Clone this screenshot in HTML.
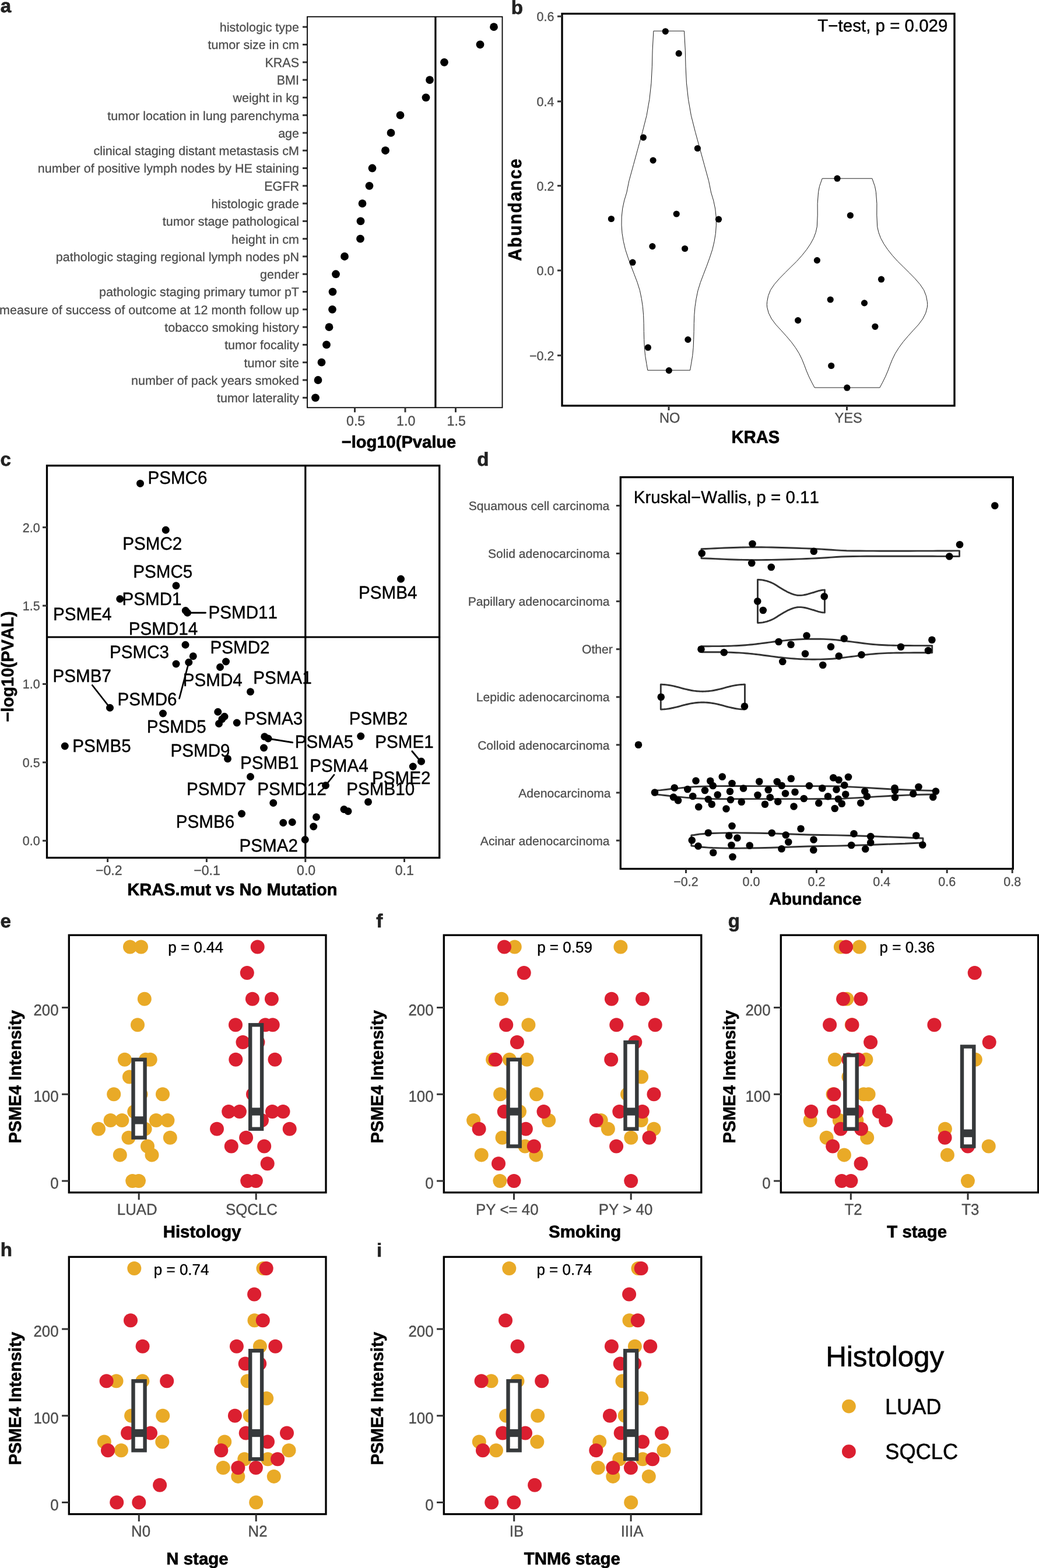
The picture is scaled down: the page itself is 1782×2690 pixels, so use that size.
<!DOCTYPE html>
<html lang="en">
<head>
<meta charset="utf-8">
<title>Figure</title>
<style>
html,body{margin:0;padding:0;background:#fff;overflow:hidden;}
body{width:1782px;height:2690px;overflow:hidden;}
svg{display:block;font-family:'Liberation Sans', sans-serif;font-kerning:none;text-rendering:geometricPrecision;}
</style>
</head>
<body>
<svg width="1782" height="2690" viewBox="0 0 1782 2690">
<rect x="0" y="0" width="1782" height="2690" fill="#ffffff"/>
<text transform="translate(0.83 20.7) scale(1 0.985)" font-size="33" font-weight="bold" fill="#222" stroke="#222" stroke-width="0.73">a</text>
<text transform="translate(513 54.1) scale(1 0.985)" font-size="21.5" text-anchor="end" fill="#4d4d4d" stroke="#4d4d4d" stroke-width="0.3">histologic type</text>
<line x1="519" y1="46.2" x2="527" y2="46.2" stroke="#333333" stroke-width="3" stroke-linecap="butt"/>
<circle cx="847" cy="46.2" r="6.9" fill="#000"/>
<text transform="translate(513 84.39) scale(1 0.985)" font-size="21.5" text-anchor="end" fill="#4d4d4d" stroke="#4d4d4d" stroke-width="0.3">tumor size in cm</text>
<line x1="519" y1="76.49" x2="527" y2="76.49" stroke="#333333" stroke-width="3" stroke-linecap="butt"/>
<circle cx="823.5" cy="76.49" r="6.9" fill="#000"/>
<text transform="translate(513 114.68) scale(1 1.040)" font-size="21.5" text-anchor="end" fill="#4d4d4d" stroke="#4d4d4d" stroke-width="0.3">KRAS</text>
<line x1="519" y1="106.78" x2="527" y2="106.78" stroke="#333333" stroke-width="3" stroke-linecap="butt"/>
<circle cx="762" cy="106.78" r="6.9" fill="#000"/>
<text transform="translate(513 144.97) scale(1 1.040)" font-size="21.5" text-anchor="end" fill="#4d4d4d" stroke="#4d4d4d" stroke-width="0.3">BMI</text>
<line x1="519" y1="137.07" x2="527" y2="137.07" stroke="#333333" stroke-width="3" stroke-linecap="butt"/>
<circle cx="737" cy="137.07" r="6.9" fill="#000"/>
<text transform="translate(513 175.26) scale(1 0.985)" font-size="21.5" text-anchor="end" fill="#4d4d4d" stroke="#4d4d4d" stroke-width="0.3">weight in kg</text>
<line x1="519" y1="167.36" x2="527" y2="167.36" stroke="#333333" stroke-width="3" stroke-linecap="butt"/>
<circle cx="730.5" cy="167.36" r="6.9" fill="#000"/>
<text transform="translate(513 205.55) scale(1 0.985)" font-size="21.5" text-anchor="end" fill="#4d4d4d" stroke="#4d4d4d" stroke-width="0.3">tumor location in lung parenchyma</text>
<line x1="519" y1="197.65" x2="527" y2="197.65" stroke="#333333" stroke-width="3" stroke-linecap="butt"/>
<circle cx="686.5" cy="197.65" r="6.9" fill="#000"/>
<text transform="translate(513 235.84) scale(1 0.985)" font-size="21.5" text-anchor="end" fill="#4d4d4d" stroke="#4d4d4d" stroke-width="0.3">age</text>
<line x1="519" y1="227.94" x2="527" y2="227.94" stroke="#333333" stroke-width="3" stroke-linecap="butt"/>
<circle cx="670.5" cy="227.94" r="6.9" fill="#000"/>
<text transform="translate(513 266.13) scale(1 0.987)" font-size="21.5" text-anchor="end" fill="#4d4d4d" stroke="#4d4d4d" stroke-width="0.3">clinical staging distant metastasis cM</text>
<line x1="519" y1="258.23" x2="527" y2="258.23" stroke="#333333" stroke-width="3" stroke-linecap="butt"/>
<circle cx="661" cy="258.23" r="6.9" fill="#000"/>
<text transform="translate(513 296.42) scale(1 0.988)" font-size="21.5" text-anchor="end" fill="#4d4d4d" stroke="#4d4d4d" stroke-width="0.3">number of positive lymph nodes by HE staining</text>
<line x1="519" y1="288.52" x2="527" y2="288.52" stroke="#333333" stroke-width="3" stroke-linecap="butt"/>
<circle cx="638.5" cy="288.52" r="6.9" fill="#000"/>
<text transform="translate(513 326.71) scale(1 1.040)" font-size="21.5" text-anchor="end" fill="#4d4d4d" stroke="#4d4d4d" stroke-width="0.3">EGFR</text>
<line x1="519" y1="318.81" x2="527" y2="318.81" stroke="#333333" stroke-width="3" stroke-linecap="butt"/>
<circle cx="633.5" cy="318.81" r="6.9" fill="#000"/>
<text transform="translate(513 357) scale(1 0.985)" font-size="21.5" text-anchor="end" fill="#4d4d4d" stroke="#4d4d4d" stroke-width="0.3">histologic grade</text>
<line x1="519" y1="349.1" x2="527" y2="349.1" stroke="#333333" stroke-width="3" stroke-linecap="butt"/>
<circle cx="621.5" cy="349.1" r="6.9" fill="#000"/>
<text transform="translate(513 387.3) scale(1 0.985)" font-size="21.5" text-anchor="end" fill="#4d4d4d" stroke="#4d4d4d" stroke-width="0.3">tumor stage pathological</text>
<line x1="519" y1="379.4" x2="527" y2="379.4" stroke="#333333" stroke-width="3" stroke-linecap="butt"/>
<circle cx="618.5" cy="379.4" r="6.9" fill="#000"/>
<text transform="translate(513 417.59) scale(1 0.985)" font-size="21.5" text-anchor="end" fill="#4d4d4d" stroke="#4d4d4d" stroke-width="0.3">height in cm</text>
<line x1="519" y1="409.69" x2="527" y2="409.69" stroke="#333333" stroke-width="3" stroke-linecap="butt"/>
<circle cx="618" cy="409.69" r="6.9" fill="#000"/>
<text transform="translate(513 447.88) scale(1 0.986)" font-size="21.5" text-anchor="end" fill="#4d4d4d" stroke="#4d4d4d" stroke-width="0.3">pathologic staging regional lymph nodes pN</text>
<line x1="519" y1="439.98" x2="527" y2="439.98" stroke="#333333" stroke-width="3" stroke-linecap="butt"/>
<circle cx="591" cy="439.98" r="6.9" fill="#000"/>
<text transform="translate(513 478.17) scale(1 0.985)" font-size="21.5" text-anchor="end" fill="#4d4d4d" stroke="#4d4d4d" stroke-width="0.3">gender</text>
<line x1="519" y1="470.27" x2="527" y2="470.27" stroke="#333333" stroke-width="3" stroke-linecap="butt"/>
<circle cx="576" cy="470.27" r="6.9" fill="#000"/>
<text transform="translate(513 508.46) scale(1 0.987)" font-size="21.5" text-anchor="end" fill="#4d4d4d" stroke="#4d4d4d" stroke-width="0.3">pathologic staging primary tumor pT</text>
<line x1="519" y1="500.56" x2="527" y2="500.56" stroke="#333333" stroke-width="3" stroke-linecap="butt"/>
<circle cx="570.5" cy="500.56" r="6.9" fill="#000"/>
<text transform="translate(513 538.75) scale(1 0.988)" font-size="21.5" text-anchor="end" fill="#4d4d4d" stroke="#4d4d4d" stroke-width="0.3">measure of success of outcome at 12 month follow up</text>
<line x1="519" y1="530.85" x2="527" y2="530.85" stroke="#333333" stroke-width="3" stroke-linecap="butt"/>
<circle cx="570" cy="530.85" r="6.9" fill="#000"/>
<text transform="translate(513 569.04) scale(1 0.985)" font-size="21.5" text-anchor="end" fill="#4d4d4d" stroke="#4d4d4d" stroke-width="0.3">tobacco smoking history</text>
<line x1="519" y1="561.14" x2="527" y2="561.14" stroke="#333333" stroke-width="3" stroke-linecap="butt"/>
<circle cx="564.5" cy="561.14" r="6.9" fill="#000"/>
<text transform="translate(513 599.33) scale(1 0.985)" font-size="21.5" text-anchor="end" fill="#4d4d4d" stroke="#4d4d4d" stroke-width="0.3">tumor focality</text>
<line x1="519" y1="591.43" x2="527" y2="591.43" stroke="#333333" stroke-width="3" stroke-linecap="butt"/>
<circle cx="560" cy="591.43" r="6.9" fill="#000"/>
<text transform="translate(513 629.62) scale(1 0.985)" font-size="21.5" text-anchor="end" fill="#4d4d4d" stroke="#4d4d4d" stroke-width="0.3">tumor site</text>
<line x1="519" y1="621.72" x2="527" y2="621.72" stroke="#333333" stroke-width="3" stroke-linecap="butt"/>
<circle cx="551.5" cy="621.72" r="6.9" fill="#000"/>
<text transform="translate(513 659.91) scale(1 0.985)" font-size="21.5" text-anchor="end" fill="#4d4d4d" stroke="#4d4d4d" stroke-width="0.3">number of pack years smoked</text>
<line x1="519" y1="652.01" x2="527" y2="652.01" stroke="#333333" stroke-width="3" stroke-linecap="butt"/>
<circle cx="545.5" cy="652.01" r="6.9" fill="#000"/>
<text transform="translate(513 690.2) scale(1 0.985)" font-size="21.5" text-anchor="end" fill="#4d4d4d" stroke="#4d4d4d" stroke-width="0.3">tumor laterality</text>
<line x1="519" y1="682.3" x2="527" y2="682.3" stroke="#333333" stroke-width="3" stroke-linecap="butt"/>
<circle cx="541" cy="682.3" r="6.9" fill="#000"/>
<line x1="746.9" y1="28.7" x2="746.9" y2="699.3" stroke="#000" stroke-width="3.2" stroke-linecap="butt"/>
<rect x="527" y="28.7" width="334.5" height="670.6" fill="none" stroke="#000" stroke-width="1.8"/>
<line x1="608.5" y1="699.3" x2="608.5" y2="707.3" stroke="#333333" stroke-width="3" stroke-linecap="butt"/>
<text transform="translate(594.01 729.7) scale(1 1.022)" font-size="23.2" fill="#4d4d4d" stroke="#4d4d4d" stroke-width="0.32">0.5</text>
<line x1="695" y1="699.3" x2="695" y2="707.3" stroke="#333333" stroke-width="3" stroke-linecap="butt"/>
<text transform="translate(680.04 729.7) scale(1 1.022)" font-size="23.2" fill="#4d4d4d" stroke="#4d4d4d" stroke-width="0.32">1.0</text>
<line x1="781.5" y1="699.3" x2="781.5" y2="707.3" stroke="#333333" stroke-width="3" stroke-linecap="butt"/>
<text transform="translate(766.58 729.7) scale(1 1.022)" font-size="23.2" fill="#4d4d4d" stroke="#4d4d4d" stroke-width="0.32">1.5</text>
<text transform="translate(585.76 767.5) scale(1 0.998)" font-size="29.1" font-weight="bold" fill="#000" stroke="#000" stroke-width="0.64">−log10(Pvalue</text>
<text transform="translate(876.82 23.5) scale(1 0.985)" font-size="33" font-weight="bold" fill="#222" stroke="#222" stroke-width="0.73">b</text>
<path d="M1120.9,53.2 L1119.1,86.1 L1118.4,114.2 L1117,142.2 L1113.9,170.3 L1109,198.4 L1101.9,226.4 L1094.2,254.5 L1086.5,282.6 L1078.8,310.6 L1074.9,330 L1070.7,344 L1067.7,358 L1066.2,372.1 L1066,386.1 L1067,400.2 L1069.3,414.2 L1072.6,428.2 L1077.2,442.2 L1082.3,456.3 L1087.7,470.3 L1093,484.3 L1097.4,498.4 L1100.3,512.4 L1102.4,526.4 L1103.6,540.5 L1104.1,554.5 L1104.3,568.5 L1104.7,582.6 L1105.3,596.6 L1106.7,610.6 L1109,624.7 L1110.8,635.2 L1183.6,635.2 L1185.4,624.7 L1187.7,610.6 L1189.1,596.6 L1189.7,582.6 L1190.1,568.5 L1190.3,554.5 L1190.8,540.5 L1192,526.4 L1194.1,512.4 L1197,498.4 L1201.4,484.3 L1206.7,470.3 L1212.1,456.3 L1217.2,442.2 L1221.8,428.2 L1225.1,414.2 L1227.4,400.2 L1228.4,386.1 L1228.2,372.1 L1226.7,358 L1223.7,344 L1219.5,330 L1215.6,310.6 L1207.9,282.6 L1200.2,254.5 L1192.5,226.4 L1185.4,198.4 L1180.5,170.3 L1177.4,142.2 L1176,114.2 L1175.3,86.1 L1173.5,53.2 Z" fill="none" stroke="#222" stroke-width="1" stroke-linejoin="round"/>
<path d="M1410.2,306.2 L1405.5,319.7 L1403.6,329.5 L1402.1,349.3 L1402.2,369.1 L1401.3,388.9 L1399.1,398.7 L1395.4,408.6 L1390,418.5 L1383.3,428.4 L1375.4,438.3 L1366.5,448.2 L1356.4,458.1 L1346.5,467.9 L1336.8,477.8 L1328.2,487.7 L1321.5,497.6 L1317.6,507.5 L1315.7,517.4 L1315.3,522.3 L1315.7,527.2 L1318.3,537.1 L1323.3,547 L1330.7,556.9 L1339.8,566.8 L1348.7,576.7 L1357.1,586.6 L1364.3,596.4 L1370.5,606.3 L1375.4,616.2 L1379.4,626.1 L1383.1,636 L1387.3,645.9 L1392.2,655.8 L1397.1,665 L1508.9,665 L1513.8,655.8 L1518.7,645.9 L1522.9,636 L1526.6,626.1 L1530.6,616.2 L1535.5,606.3 L1541.7,596.4 L1548.9,586.6 L1557.3,576.7 L1566.2,566.8 L1575.3,556.9 L1582.7,547 L1587.7,537.1 L1590.3,527.2 L1590.7,522.3 L1590.3,517.4 L1588.4,507.5 L1584.5,497.6 L1577.8,487.7 L1569.2,477.8 L1559.5,467.9 L1549.6,458.1 L1539.5,448.2 L1530.6,438.3 L1522.7,428.4 L1516,418.5 L1510.6,408.6 L1506.9,398.7 L1504.7,388.9 L1503.8,369.1 L1503.9,349.3 L1502.4,329.5 L1500.5,319.7 L1495.8,306.2 Z" fill="none" stroke="#222" stroke-width="1" stroke-linejoin="round"/>
<circle cx="1141.3" cy="53.8" r="5.6" fill="#000"/>
<circle cx="1164.2" cy="91.7" r="5.6" fill="#000"/>
<circle cx="1103.4" cy="235.8" r="5.6" fill="#000"/>
<circle cx="1196.4" cy="254.5" r="5.6" fill="#000"/>
<circle cx="1120.1" cy="275.1" r="5.6" fill="#000"/>
<circle cx="1048.4" cy="375.5" r="5.6" fill="#000"/>
<circle cx="1160.2" cy="367" r="5.6" fill="#000"/>
<circle cx="1232.5" cy="376.2" r="5.6" fill="#000"/>
<circle cx="1118.9" cy="422.6" r="5.6" fill="#000"/>
<circle cx="1174.6" cy="426.5" r="5.6" fill="#000"/>
<circle cx="1085" cy="450.2" r="5.6" fill="#000"/>
<circle cx="1179.9" cy="582.6" r="5.6" fill="#000"/>
<circle cx="1111.4" cy="596.2" r="5.6" fill="#000"/>
<circle cx="1147.3" cy="635.6" r="5.6" fill="#000"/>
<circle cx="1436" cy="306.2" r="5.6" fill="#000"/>
<circle cx="1458.4" cy="369.5" r="5.6" fill="#000"/>
<circle cx="1401.4" cy="446.6" r="5.6" fill="#000"/>
<circle cx="1511.5" cy="479.2" r="5.6" fill="#000"/>
<circle cx="1424.2" cy="514" r="5.6" fill="#000"/>
<circle cx="1482.5" cy="519.9" r="5.6" fill="#000"/>
<circle cx="1368.6" cy="549.6" r="5.6" fill="#000"/>
<circle cx="1500.9" cy="560.3" r="5.6" fill="#000"/>
<circle cx="1425.7" cy="627.5" r="5.6" fill="#000"/>
<circle cx="1452.8" cy="665.2" r="5.6" fill="#000"/>
<rect x="964" y="23.5" width="673" height="672.5" fill="none" stroke="#000" stroke-width="3.3"/>
<line x1="956" y1="28.1" x2="964" y2="28.1" stroke="#333333" stroke-width="3" stroke-linecap="butt"/>
<text transform="translate(950.5 36) scale(1 1.022)" font-size="21.5" text-anchor="end" fill="#4d4d4d" stroke="#4d4d4d" stroke-width="0.3">0.6</text>
<line x1="956" y1="174" x2="964" y2="174" stroke="#333333" stroke-width="3" stroke-linecap="butt"/>
<text transform="translate(950.5 181.9) scale(1 1.022)" font-size="21.5" text-anchor="end" fill="#4d4d4d" stroke="#4d4d4d" stroke-width="0.3">0.4</text>
<line x1="956" y1="318.7" x2="964" y2="318.7" stroke="#333333" stroke-width="3" stroke-linecap="butt"/>
<text transform="translate(950.5 326.6) scale(1 1.022)" font-size="21.5" text-anchor="end" fill="#4d4d4d" stroke="#4d4d4d" stroke-width="0.3">0.2</text>
<line x1="956" y1="464" x2="964" y2="464" stroke="#333333" stroke-width="3" stroke-linecap="butt"/>
<text transform="translate(950.5 471.9) scale(1 1.022)" font-size="21.5" text-anchor="end" fill="#4d4d4d" stroke="#4d4d4d" stroke-width="0.3">0.0</text>
<line x1="956" y1="609.8" x2="964" y2="609.8" stroke="#333333" stroke-width="3" stroke-linecap="butt"/>
<text transform="translate(950.5 617.7) scale(1 1.012)" font-size="21.5" text-anchor="end" fill="#4d4d4d" stroke="#4d4d4d" stroke-width="0.3">−0.2</text>
<line x1="1147" y1="696" x2="1147" y2="704" stroke="#333333" stroke-width="3" stroke-linecap="butt"/>
<text transform="translate(1130.9 725.2) scale(1 1.040)" font-size="23.6" fill="#4d4d4d" stroke="#4d4d4d" stroke-width="0.33">NO</text>
<line x1="1452.5" y1="696" x2="1452.5" y2="704" stroke="#333333" stroke-width="3" stroke-linecap="butt"/>
<text transform="translate(1431.42 725.2) scale(1 1.040)" font-size="23.6" fill="#4d4d4d" stroke="#4d4d4d" stroke-width="0.33">YES</text>
<text transform="translate(1254.62 760.4) scale(1 1.040)" font-size="29.1" font-weight="bold" fill="#000" stroke="#000" stroke-width="0.64">KRAS</text>
<text transform="translate(894 447.79) rotate(-90) scale(1 1.075)" font-size="29.6" font-weight="bold" fill="#000" stroke="#000" stroke-width="0.53" letter-spacing="1.75">Abundance</text>
<text transform="translate(1402.35 54) scale(1 1.005)" font-size="29.5" fill="#000" stroke="#000" stroke-width="0.41">T−test, p = 0.029</text>
<text transform="translate(0.61 799.3) scale(1 0.985)" font-size="33" font-weight="bold" fill="#222" stroke="#222" stroke-width="0.73">c</text>
<line x1="523.8" y1="798.8" x2="523.8" y2="1471.5" stroke="#000" stroke-width="3.2" stroke-linecap="butt"/>
<line x1="80.5" y1="1093" x2="753.7" y2="1093" stroke="#000" stroke-width="3.2" stroke-linecap="butt"/>
<circle cx="687.5" cy="993.25" r="6.5" fill="#000"/>
<circle cx="240.5" cy="829.4" r="6.5" fill="#000"/>
<circle cx="284.25" cy="909.25" r="6.5" fill="#000"/>
<circle cx="302" cy="1004.75" r="6.5" fill="#000"/>
<circle cx="205.75" cy="1027.5" r="6.5" fill="#000"/>
<circle cx="318.25" cy="1047.5" r="6.5" fill="#000"/>
<circle cx="321.5" cy="1051.25" r="6.5" fill="#000"/>
<circle cx="318" cy="1106.25" r="6.5" fill="#000"/>
<circle cx="331.25" cy="1125.75" r="6.5" fill="#000"/>
<circle cx="323.75" cy="1136.25" r="6.5" fill="#000"/>
<circle cx="302" cy="1139" r="6.5" fill="#000"/>
<circle cx="387.5" cy="1135" r="6.5" fill="#000"/>
<circle cx="377.5" cy="1144.5" r="6.5" fill="#000"/>
<circle cx="188.5" cy="1214.25" r="6.5" fill="#000"/>
<circle cx="429.5" cy="1186.75" r="6.5" fill="#000"/>
<circle cx="279.5" cy="1224" r="6.5" fill="#000"/>
<circle cx="373.75" cy="1221.25" r="6.5" fill="#000"/>
<circle cx="385" cy="1229.25" r="6.5" fill="#000"/>
<circle cx="380.75" cy="1233.75" r="6.5" fill="#000"/>
<circle cx="375.5" cy="1241.5" r="6.5" fill="#000"/>
<circle cx="406.25" cy="1240" r="6.5" fill="#000"/>
<circle cx="111.25" cy="1280" r="6.5" fill="#000"/>
<circle cx="390.5" cy="1301.75" r="6.5" fill="#000"/>
<circle cx="429.5" cy="1332.5" r="6.5" fill="#000"/>
<circle cx="453.75" cy="1263.75" r="6.5" fill="#000"/>
<circle cx="460" cy="1267" r="6.5" fill="#000"/>
<circle cx="452.5" cy="1283" r="6.5" fill="#000"/>
<circle cx="618.75" cy="1263" r="6.5" fill="#000"/>
<circle cx="722.5" cy="1306.25" r="6.5" fill="#000"/>
<circle cx="708.25" cy="1315" r="6.5" fill="#000"/>
<circle cx="558.5" cy="1347.5" r="6.5" fill="#000"/>
<circle cx="468.75" cy="1377.5" r="6.5" fill="#000"/>
<circle cx="631.5" cy="1375.75" r="6.5" fill="#000"/>
<circle cx="590" cy="1388.5" r="6.5" fill="#000"/>
<circle cx="597" cy="1391.75" r="6.5" fill="#000"/>
<circle cx="542.5" cy="1401.75" r="6.5" fill="#000"/>
<circle cx="537.75" cy="1418" r="6.5" fill="#000"/>
<circle cx="485.75" cy="1411.5" r="6.5" fill="#000"/>
<circle cx="501.25" cy="1410.5" r="6.5" fill="#000"/>
<circle cx="414.5" cy="1396" r="6.5" fill="#000"/>
<circle cx="523.25" cy="1440.5" r="6.5" fill="#000"/>
<line x1="325" y1="1051.25" x2="352.5" y2="1051.25" stroke="#000" stroke-width="2.8" stroke-linecap="round"/>
<line x1="158.25" y1="1175.5" x2="186.25" y2="1211.25" stroke="#000" stroke-width="2.8" stroke-linecap="round"/>
<line x1="307.5" y1="1198.25" x2="322.5" y2="1141.25" stroke="#000" stroke-width="2.8" stroke-linecap="round"/>
<line x1="465.5" y1="1268" x2="501.75" y2="1273.75" stroke="#000" stroke-width="2.8" stroke-linecap="round"/>
<line x1="706.75" y1="1288.75" x2="719.25" y2="1303.75" stroke="#000" stroke-width="2.8" stroke-linecap="round"/>
<line x1="573" y1="1329.25" x2="560.5" y2="1345" stroke="#000" stroke-width="2.8" stroke-linecap="round"/>
<text transform="translate(615.12 1026.8) scale(1 1.040)" font-size="29.6" fill="#000" stroke="#000" stroke-width="0.41">PSMB4</text>
<text transform="translate(253.47 829.8) scale(1 1.040)" font-size="29.6" fill="#000" stroke="#000" stroke-width="0.41">PSMC6</text>
<text transform="translate(210.37 942.8) scale(1 1.040)" font-size="29.6" fill="#000" stroke="#000" stroke-width="0.41">PSMC2</text>
<text transform="translate(228.37 991.3) scale(1 1.040)" font-size="29.6" fill="#000" stroke="#000" stroke-width="0.41">PSMC5</text>
<text transform="translate(209.62 1037.8) scale(1 1.040)" font-size="29.6" fill="#000" stroke="#000" stroke-width="0.41">PSMD1</text>
<text transform="translate(91.12 1063.8) scale(1 1.040)" font-size="29.6" fill="#000" stroke="#000" stroke-width="0.41">PSME4</text>
<text transform="translate(357.62 1061.05) scale(1 1.040)" font-size="29.6" fill="#000" stroke="#000" stroke-width="0.41">PSMD11</text>
<text transform="translate(220.87 1088.8) scale(1 1.040)" font-size="29.6" fill="#000" stroke="#000" stroke-width="0.41">PSMD14</text>
<text transform="translate(188.12 1129.3) scale(1 1.040)" font-size="29.6" fill="#000" stroke="#000" stroke-width="0.41">PSMC3</text>
<text transform="translate(360.62 1121.05) scale(1 1.040)" font-size="29.6" fill="#000" stroke="#000" stroke-width="0.41">PSMD2</text>
<text transform="translate(90.62 1169.8) scale(1 1.040)" font-size="29.6" fill="#000" stroke="#000" stroke-width="0.41">PSMB7</text>
<text transform="translate(201.62 1209.8) scale(1 1.040)" font-size="29.6" fill="#000" stroke="#000" stroke-width="0.41">PSMD6</text>
<text transform="translate(313.87 1177.3) scale(1 1.040)" font-size="29.6" fill="#000" stroke="#000" stroke-width="0.41">PSMD4</text>
<text transform="translate(251.87 1256.8) scale(1 1.040)" font-size="29.6" fill="#000" stroke="#000" stroke-width="0.41">PSMD5</text>
<text transform="translate(124.37 1289.8) scale(1 1.040)" font-size="29.6" fill="#000" stroke="#000" stroke-width="0.41">PSMB5</text>
<text transform="translate(292.62 1297.8) scale(1 1.040)" font-size="29.6" fill="#000" stroke="#000" stroke-width="0.41">PSMD9</text>
<text transform="translate(320.12 1364.3) scale(1 1.040)" font-size="29.6" fill="#000" stroke="#000" stroke-width="0.41">PSMD7</text>
<text transform="translate(434.37 1173.05) scale(1 1.040)" font-size="29.6" fill="#000" stroke="#000" stroke-width="0.41">PSMA1</text>
<text transform="translate(418.87 1242.8) scale(1 1.040)" font-size="29.6" fill="#000" stroke="#000" stroke-width="0.41">PSMA3</text>
<text transform="translate(505.87 1283.05) scale(1 1.040)" font-size="29.6" fill="#000" stroke="#000" stroke-width="0.41">PSMA5</text>
<text transform="translate(412.12 1319.05) scale(1 1.040)" font-size="29.6" fill="#000" stroke="#000" stroke-width="0.41">PSMB1</text>
<text transform="translate(598.87 1242.8) scale(1 1.040)" font-size="29.6" fill="#000" stroke="#000" stroke-width="0.41">PSMB2</text>
<text transform="translate(643.37 1283.05) scale(1 1.040)" font-size="29.6" fill="#000" stroke="#000" stroke-width="0.41">PSME1</text>
<text transform="translate(638.12 1344.8) scale(1 1.040)" font-size="29.6" fill="#000" stroke="#000" stroke-width="0.41">PSME2</text>
<text transform="translate(531.37 1323.55) scale(1 1.040)" font-size="29.6" fill="#000" stroke="#000" stroke-width="0.41">PSMA4</text>
<text transform="translate(441.37 1363.55) scale(1 1.040)" font-size="29.6" fill="#000" stroke="#000" stroke-width="0.41">PSMD12</text>
<text transform="translate(594.37 1364.3) scale(1 1.040)" font-size="29.6" fill="#000" stroke="#000" stroke-width="0.41">PSMB10</text>
<text transform="translate(301.87 1420.3) scale(1 1.040)" font-size="29.6" fill="#000" stroke="#000" stroke-width="0.41">PSMB6</text>
<text transform="translate(410.62 1461.05) scale(1 1.040)" font-size="29.6" fill="#000" stroke="#000" stroke-width="0.41">PSMA2</text>
<rect x="80.5" y="798.8" width="673.2" height="672.7" fill="none" stroke="#000" stroke-width="3.3"/>
<line x1="73" y1="1442.3" x2="80.5" y2="1442.3" stroke="#333333" stroke-width="3" stroke-linecap="butt"/>
<text transform="translate(68.6 1450.2) scale(1 1.022)" font-size="21.5" text-anchor="end" fill="#4d4d4d" stroke="#4d4d4d" stroke-width="0.3">0.0</text>
<line x1="73" y1="1307.9" x2="80.5" y2="1307.9" stroke="#333333" stroke-width="3" stroke-linecap="butt"/>
<text transform="translate(68.6 1315.8) scale(1 1.022)" font-size="21.5" text-anchor="end" fill="#4d4d4d" stroke="#4d4d4d" stroke-width="0.3">0.5</text>
<line x1="73" y1="1173.5" x2="80.5" y2="1173.5" stroke="#333333" stroke-width="3" stroke-linecap="butt"/>
<text transform="translate(68.6 1181.4) scale(1 1.022)" font-size="21.5" text-anchor="end" fill="#4d4d4d" stroke="#4d4d4d" stroke-width="0.3">1.0</text>
<line x1="73" y1="1039.1" x2="80.5" y2="1039.1" stroke="#333333" stroke-width="3" stroke-linecap="butt"/>
<text transform="translate(68.6 1047) scale(1 1.022)" font-size="21.5" text-anchor="end" fill="#4d4d4d" stroke="#4d4d4d" stroke-width="0.3">1.5</text>
<line x1="73" y1="904.7" x2="80.5" y2="904.7" stroke="#333333" stroke-width="3" stroke-linecap="butt"/>
<text transform="translate(68.6 912.6) scale(1 1.022)" font-size="21.5" text-anchor="end" fill="#4d4d4d" stroke="#4d4d4d" stroke-width="0.3">2.0</text>
<line x1="184.6" y1="1471.5" x2="184.6" y2="1479" stroke="#333333" stroke-width="3" stroke-linecap="butt"/>
<text transform="translate(163.96 1500.6) scale(1 1.012)" font-size="23.1" fill="#4d4d4d" stroke="#4d4d4d" stroke-width="0.32">−0.2</text>
<line x1="354.4" y1="1471.5" x2="354.4" y2="1479" stroke="#333333" stroke-width="3" stroke-linecap="butt"/>
<text transform="translate(332.19 1500.6) scale(1 1.012)" font-size="23.1" fill="#4d4d4d" stroke="#4d4d4d" stroke-width="0.32">−0.1</text>
<line x1="523.8" y1="1471.5" x2="523.8" y2="1479" stroke="#333333" stroke-width="3" stroke-linecap="butt"/>
<text transform="translate(509.04 1500.6) scale(1 1.022)" font-size="23.1" fill="#4d4d4d" stroke="#4d4d4d" stroke-width="0.32">0.0</text>
<line x1="693.5" y1="1471.5" x2="693.5" y2="1479" stroke="#333333" stroke-width="3" stroke-linecap="butt"/>
<text transform="translate(677.66 1500.6) scale(1 1.022)" font-size="23.1" fill="#4d4d4d" stroke="#4d4d4d" stroke-width="0.32">0.1</text>
<text transform="translate(218.17 1535.5) scale(1 1.002)" font-size="29.1" font-weight="bold" fill="#000" stroke="#000" stroke-width="0.64">KRAS.mut vs No Mutation</text>
<text transform="translate(23.1 1238.62) rotate(-90) scale(1 1.012)" font-size="29.1" font-weight="bold" fill="#000" stroke="#000" stroke-width="0.52">−log10(PVAL)</text>
<text transform="translate(818.15 799.2) scale(1 0.985)" font-size="33" font-weight="bold" fill="#222" stroke="#222" stroke-width="0.73">d</text>
<path d="M1203,941.7 L1210.83,941.47 L1218.67,941.14 L1226.5,940.76 L1234.33,940.37 L1242.17,940 L1250,939.7 L1257.83,939.45 L1265.67,939.22 L1273.5,939.01 L1281.33,938.85 L1289.17,938.74 L1297,938.7 L1305.83,938.74 L1314.67,938.85 L1323.5,939.01 L1332.33,939.22 L1341.17,939.45 L1350,939.7 L1358.33,939.96 L1366.67,940.26 L1375,940.58 L1383.33,940.92 L1391.67,941.3 L1400,941.7 L1408.67,942.17 L1417.33,942.72 L1426,943.29 L1434.67,943.85 L1443.33,944.33 L1452,944.7 L1463.33,944.93 L1474.67,945.07 L1486,945.14 L1497.33,945.17 L1508.67,945.18 L1520,945.2 L1533.33,945.22 L1546.67,945.21 L1560,945.19 L1573.33,945.16 L1586.67,945.13 L1600,945.1 L1607.58,945.07 L1615.17,945.03 L1622.75,944.99 L1630.33,944.96 L1637.92,944.92 L1645.5,944.9 L1645.5,954.5 L1637.92,954.48 L1630.33,954.44 L1622.75,954.41 L1615.17,954.37 L1607.58,954.33 L1600,954.3 L1586.67,954.27 L1573.33,954.24 L1560,954.21 L1546.67,954.19 L1533.33,954.18 L1520,954.2 L1508.67,954.22 L1497.33,954.23 L1486,954.26 L1474.67,954.33 L1463.33,954.47 L1452,954.7 L1443.33,955.07 L1434.67,955.55 L1426,956.11 L1417.33,956.68 L1408.67,957.23 L1400,957.7 L1391.67,958.1 L1383.33,958.48 L1375,958.83 L1366.67,959.14 L1358.33,959.44 L1350,959.7 L1341.17,959.95 L1332.33,960.18 L1323.5,960.39 L1314.67,960.55 L1305.83,960.66 L1297,960.7 L1289.17,960.66 L1281.33,960.55 L1273.5,960.39 L1265.67,960.18 L1257.83,959.95 L1250,959.7 L1242.17,959.4 L1234.33,959.03 L1226.5,958.64 L1218.67,958.26 L1210.83,957.93 L1203,957.7 Z" fill="none" stroke="#333333" stroke-width="2.9" stroke-linejoin="round"/>
<path d="M1299.5,994.5 L1301.25,994.56 L1303,994.61 L1304.75,994.69 L1306.5,994.83 L1308.25,995.09 L1310,995.5 L1312.5,996.06 L1315,996.72 L1317.5,997.5 L1320,998.39 L1322.5,999.39 L1325,1000.5 L1327.5,1001.78 L1330,1003.24 L1332.5,1004.81 L1335,1006.43 L1337.5,1008.01 L1340,1009.5 L1342.5,1010.94 L1345,1012.4 L1347.5,1013.83 L1350,1015.19 L1352.5,1016.43 L1355,1017.5 L1357.08,1018.42 L1359.17,1019.21 L1361.25,1019.89 L1363.33,1020.45 L1365.42,1020.89 L1367.5,1021.2 L1369.58,1021.38 L1371.67,1021.41 L1373.75,1021.33 L1375.83,1021.14 L1377.92,1020.86 L1380,1020.5 L1382.5,1020.02 L1385,1019.39 L1387.5,1018.67 L1390,1017.92 L1392.5,1017.18 L1395,1016.5 L1397,1015.86 L1399,1015.2 L1401,1014.56 L1403,1013.96 L1405,1013.43 L1407,1013 L1408.23,1012.68 L1409.47,1012.44 L1410.7,1012.28 L1411.93,1012.17 L1413.17,1012.08 L1414.4,1012 L1414.4,1051 L1413.17,1050.92 L1411.93,1050.83 L1410.7,1050.72 L1409.47,1050.56 L1408.23,1050.32 L1407,1050 L1405,1049.57 L1403,1049.04 L1401,1048.44 L1399,1047.8 L1397,1047.14 L1395,1046.5 L1392.5,1045.82 L1390,1045.08 L1387.5,1044.33 L1385,1043.61 L1382.5,1042.98 L1380,1042.5 L1377.92,1042.14 L1375.83,1041.86 L1373.75,1041.67 L1371.67,1041.59 L1369.58,1041.62 L1367.5,1041.8 L1365.42,1042.11 L1363.33,1042.55 L1361.25,1043.11 L1359.17,1043.79 L1357.08,1044.58 L1355,1045.5 L1352.5,1046.57 L1350,1047.81 L1347.5,1049.17 L1345,1050.6 L1342.5,1052.06 L1340,1053.5 L1337.5,1054.99 L1335,1056.57 L1332.5,1058.19 L1330,1059.76 L1327.5,1061.22 L1325,1062.5 L1322.5,1063.61 L1320,1064.61 L1317.5,1065.5 L1315,1066.28 L1312.5,1066.94 L1310,1067.5 L1308.25,1067.91 L1306.5,1068.17 L1304.75,1068.31 L1303,1068.39 L1301.25,1068.44 L1299.5,1068.5 Z" fill="none" stroke="#333333" stroke-width="2.9" stroke-linejoin="round"/>
<path d="M1203,1108.7 L1209.17,1108.69 L1215.33,1108.68 L1221.5,1108.66 L1227.67,1108.63 L1233.83,1108.58 L1240,1108.5 L1244.58,1108.39 L1249.17,1108.26 L1253.75,1108.1 L1258.33,1107.92 L1262.92,1107.72 L1267.5,1107.5 L1271.25,1107.25 L1275,1106.99 L1278.75,1106.69 L1282.5,1106.38 L1286.25,1106.05 L1290,1105.7 L1293.33,1105.33 L1296.67,1104.95 L1300,1104.54 L1303.33,1104.12 L1306.67,1103.67 L1310,1103.2 L1314.17,1102.69 L1318.33,1102.14 L1322.5,1101.58 L1326.67,1101 L1330.83,1100.44 L1335,1099.9 L1340.42,1099.37 L1345.83,1098.83 L1351.25,1098.29 L1356.67,1097.8 L1362.08,1097.36 L1367.5,1097 L1372.5,1096.72 L1377.5,1096.51 L1382.5,1096.36 L1387.5,1096.26 L1392.5,1096.2 L1397.5,1096.2 L1402.5,1096.23 L1407.5,1096.3 L1412.5,1096.42 L1417.5,1096.6 L1422.5,1096.86 L1427.5,1097.2 L1432.92,1097.66 L1438.33,1098.22 L1443.75,1098.86 L1449.17,1099.54 L1454.58,1100.23 L1460,1100.9 L1465.42,1101.58 L1470.83,1102.31 L1476.25,1103.06 L1481.67,1103.77 L1487.08,1104.43 L1492.5,1105 L1497.5,1105.47 L1502.5,1105.88 L1507.5,1106.23 L1512.5,1106.52 L1517.5,1106.78 L1522.5,1107 L1527.42,1107.17 L1532.33,1107.29 L1537.25,1107.36 L1542.17,1107.41 L1547.08,1107.45 L1552,1107.5 L1559.78,1107.55 L1567.57,1107.6 L1575.35,1107.63 L1583.13,1107.66 L1590.92,1107.68 L1598.7,1107.7 L1598.7,1119.7 L1590.92,1119.72 L1583.13,1119.74 L1575.35,1119.77 L1567.57,1119.8 L1559.78,1119.85 L1552,1119.9 L1547.08,1119.95 L1542.17,1119.99 L1537.25,1120.04 L1532.33,1120.11 L1527.42,1120.23 L1522.5,1120.4 L1517.5,1120.62 L1512.5,1120.88 L1507.5,1121.17 L1502.5,1121.52 L1497.5,1121.93 L1492.5,1122.4 L1487.08,1122.97 L1481.67,1123.63 L1476.25,1124.34 L1470.83,1125.09 L1465.42,1125.82 L1460,1126.5 L1454.58,1127.17 L1449.17,1127.86 L1443.75,1128.54 L1438.33,1129.18 L1432.92,1129.74 L1427.5,1130.2 L1422.5,1130.54 L1417.5,1130.8 L1412.5,1130.98 L1407.5,1131.1 L1402.5,1131.17 L1397.5,1131.2 L1392.5,1131.2 L1387.5,1131.14 L1382.5,1131.04 L1377.5,1130.89 L1372.5,1130.68 L1367.5,1130.4 L1362.08,1130.04 L1356.67,1129.6 L1351.25,1129.11 L1345.83,1128.57 L1340.42,1128.03 L1335,1127.5 L1330.83,1126.96 L1326.67,1126.4 L1322.5,1125.83 L1318.33,1125.26 L1314.17,1124.71 L1310,1124.2 L1306.67,1123.73 L1303.33,1123.28 L1300,1122.86 L1296.67,1122.45 L1293.33,1122.07 L1290,1121.7 L1286.25,1121.35 L1282.5,1121.02 L1278.75,1120.71 L1275,1120.41 L1271.25,1120.15 L1267.5,1119.9 L1262.92,1119.68 L1258.33,1119.48 L1253.75,1119.3 L1249.17,1119.14 L1244.58,1119.01 L1240,1118.9 L1233.83,1118.82 L1227.67,1118.77 L1221.5,1118.74 L1215.33,1118.72 L1209.17,1118.71 L1203,1118.7 Z" fill="none" stroke="#333333" stroke-width="2.9" stroke-linejoin="round"/>
<path d="M1133.3,1174.2 L1135.25,1174.27 L1137.2,1174.36 L1139.15,1174.46 L1141.1,1174.61 L1143.05,1174.82 L1145,1175.1 L1147.5,1175.47 L1150,1175.91 L1152.5,1176.41 L1155,1176.95 L1157.5,1177.52 L1160,1178.1 L1162.5,1178.72 L1165,1179.4 L1167.5,1180.1 L1170,1180.8 L1172.5,1181.48 L1175,1182.1 L1177.5,1182.68 L1180,1183.24 L1182.5,1183.78 L1185,1184.28 L1187.5,1184.72 L1190,1185.1 L1192.5,1185.42 L1195,1185.69 L1197.5,1185.91 L1200,1186.07 L1202.5,1186.17 L1205,1186.2 L1207.5,1186.17 L1210,1186.07 L1212.5,1185.91 L1215,1185.69 L1217.5,1185.42 L1220,1185.1 L1222.5,1184.72 L1225,1184.28 L1227.5,1183.78 L1230,1183.24 L1232.5,1182.68 L1235,1182.1 L1237.5,1181.48 L1240,1180.8 L1242.5,1180.1 L1245,1179.4 L1247.5,1178.72 L1250,1178.1 L1252.5,1177.52 L1255,1176.95 L1257.5,1176.41 L1260,1175.91 L1262.5,1175.47 L1265,1175.1 L1267.08,1174.82 L1269.17,1174.61 L1271.25,1174.46 L1273.33,1174.36 L1275.42,1174.27 L1277.5,1174.2 L1277.5,1217 L1275.42,1216.93 L1273.33,1216.84 L1271.25,1216.74 L1269.17,1216.59 L1267.08,1216.38 L1265,1216.1 L1262.5,1215.73 L1260,1215.29 L1257.5,1214.79 L1255,1214.25 L1252.5,1213.68 L1250,1213.1 L1247.5,1212.48 L1245,1211.8 L1242.5,1211.1 L1240,1210.4 L1237.5,1209.72 L1235,1209.1 L1232.5,1208.52 L1230,1207.96 L1227.5,1207.42 L1225,1206.92 L1222.5,1206.48 L1220,1206.1 L1217.5,1205.78 L1215,1205.51 L1212.5,1205.29 L1210,1205.13 L1207.5,1205.03 L1205,1205 L1202.5,1205.03 L1200,1205.13 L1197.5,1205.29 L1195,1205.51 L1192.5,1205.78 L1190,1206.1 L1187.5,1206.48 L1185,1206.92 L1182.5,1207.42 L1180,1207.96 L1177.5,1208.52 L1175,1209.1 L1172.5,1209.72 L1170,1210.4 L1167.5,1211.1 L1165,1211.8 L1162.5,1212.48 L1160,1213.1 L1157.5,1213.68 L1155,1214.25 L1152.5,1214.79 L1150,1215.29 L1147.5,1215.73 L1145,1216.1 L1143.05,1216.38 L1141.1,1216.59 L1139.15,1216.74 L1137.2,1216.84 L1135.25,1216.93 L1133.3,1217 Z" fill="none" stroke="#333333" stroke-width="2.9" stroke-linejoin="round"/>
<path d="M1122.5,1356.4 L1132.5,1355.61 L1142.5,1354.48 L1152.5,1353.3 L1165,1352.08 L1177.5,1350.81 L1190,1349.8 L1202.5,1349.19 L1215,1348.83 L1227.5,1348.6 L1251.67,1348.51 L1275.83,1348.56 L1300,1348.6 L1330,1348.59 L1360,1348.58 L1390,1348.6 L1406.67,1348.66 L1423.33,1348.76 L1440,1348.9 L1444.17,1348.97 L1448.33,1349.08 L1452.5,1349.6 L1478.33,1350.86 L1504.17,1352.54 L1530,1354 L1554.17,1355.07 L1578.33,1355.92 L1602.5,1356.5 L1602.5,1362.7 L1578.33,1363.28 L1554.17,1364.13 L1530,1365.2 L1504.17,1366.66 L1478.33,1368.34 L1452.5,1369.6 L1448.33,1370.12 L1444.17,1370.23 L1440,1370.3 L1423.33,1370.44 L1406.67,1370.54 L1390,1370.6 L1360,1370.62 L1330,1370.61 L1300,1370.6 L1275.83,1370.64 L1251.67,1370.69 L1227.5,1370.6 L1215,1370.37 L1202.5,1370.01 L1190,1369.4 L1177.5,1368.39 L1165,1367.12 L1152.5,1365.9 L1142.5,1364.72 L1132.5,1363.59 L1122.5,1362.8 Z" fill="none" stroke="#333333" stroke-width="2.9" stroke-linejoin="round"/>
<path d="M1185.8,1433 L1190.53,1432.46 L1195.27,1431.7 L1200,1431 L1207.5,1430.43 L1215,1429.92 L1222.5,1429.5 L1235,1429.14 L1247.5,1428.88 L1260,1428.8 L1280.83,1428.96 L1301.67,1429.31 L1322.5,1429.8 L1343.33,1430.47 L1364.17,1431.27 L1385,1432 L1410,1432.49 L1435,1432.9 L1460,1433.5 L1490.67,1434.51 L1521.33,1435.71 L1552,1436.7 L1562.33,1437.32 L1572.67,1437.73 L1583,1438 L1583,1446 L1572.67,1446.27 L1562.33,1446.68 L1552,1447.3 L1521.33,1448.29 L1490.67,1449.49 L1460,1450.5 L1435,1451.1 L1410,1451.51 L1385,1452 L1364.17,1452.73 L1343.33,1453.53 L1322.5,1454.2 L1301.67,1454.69 L1280.83,1455.04 L1260,1455.2 L1247.5,1455.12 L1235,1454.86 L1222.5,1454.5 L1215,1454.08 L1207.5,1453.57 L1200,1453 L1195.27,1452.3 L1190.53,1451.54 L1185.8,1451 Z" fill="none" stroke="#333333" stroke-width="2.9" stroke-linejoin="round"/>
<circle cx="1706.25" cy="867.5" r="6.3" fill="#000"/>
<circle cx="1203.75" cy="949.25" r="6.3" fill="#000"/>
<circle cx="1290.5" cy="933" r="6.3" fill="#000"/>
<circle cx="1395.75" cy="945.75" r="6.3" fill="#000"/>
<circle cx="1289.25" cy="966" r="6.3" fill="#000"/>
<circle cx="1322.75" cy="973" r="6.3" fill="#000"/>
<circle cx="1646" cy="934.25" r="6.3" fill="#000"/>
<circle cx="1628.25" cy="954.5" r="6.3" fill="#000"/>
<circle cx="1299.25" cy="1031.5" r="6.3" fill="#000"/>
<circle cx="1308.75" cy="1047" r="6.3" fill="#000"/>
<circle cx="1413.75" cy="1023.25" r="6.3" fill="#000"/>
<circle cx="1202.5" cy="1113.75" r="6.3" fill="#000"/>
<circle cx="1241.75" cy="1119.25" r="6.3" fill="#000"/>
<circle cx="1335.5" cy="1101" r="6.3" fill="#000"/>
<circle cx="1356.5" cy="1105.75" r="6.3" fill="#000"/>
<circle cx="1383.5" cy="1090.5" r="6.3" fill="#000"/>
<circle cx="1381" cy="1121.5" r="6.3" fill="#000"/>
<circle cx="1342.25" cy="1135" r="6.3" fill="#000"/>
<circle cx="1425" cy="1109.5" r="6.3" fill="#000"/>
<circle cx="1447.75" cy="1095.5" r="6.3" fill="#000"/>
<circle cx="1438.75" cy="1125.5" r="6.3" fill="#000"/>
<circle cx="1411.25" cy="1141" r="6.3" fill="#000"/>
<circle cx="1477.5" cy="1123.25" r="6.3" fill="#000"/>
<circle cx="1545" cy="1109.75" r="6.3" fill="#000"/>
<circle cx="1598.4" cy="1097.7" r="6.3" fill="#000"/>
<circle cx="1592" cy="1116" r="6.3" fill="#000"/>
<circle cx="1133.75" cy="1195.75" r="6.3" fill="#000"/>
<circle cx="1277" cy="1211.75" r="6.3" fill="#000"/>
<circle cx="1095" cy="1277.75" r="6.3" fill="#000"/>
<circle cx="1123" cy="1359.5" r="6.3" fill="#000"/>
<circle cx="1156.75" cy="1351.5" r="6.3" fill="#000"/>
<circle cx="1155" cy="1367.5" r="6.3" fill="#000"/>
<circle cx="1163" cy="1373.25" r="6.3" fill="#000"/>
<circle cx="1179.25" cy="1354" r="6.3" fill="#000"/>
<circle cx="1188.25" cy="1366" r="6.3" fill="#000"/>
<circle cx="1193.5" cy="1339.5" r="6.3" fill="#000"/>
<circle cx="1198.25" cy="1384.25" r="6.3" fill="#000"/>
<circle cx="1209" cy="1356" r="6.3" fill="#000"/>
<circle cx="1218.25" cy="1339.75" r="6.3" fill="#000"/>
<circle cx="1222.75" cy="1348" r="6.3" fill="#000"/>
<circle cx="1214.75" cy="1371.25" r="6.3" fill="#000"/>
<circle cx="1220.75" cy="1379.75" r="6.3" fill="#000"/>
<circle cx="1230.75" cy="1363.5" r="6.3" fill="#000"/>
<circle cx="1238.75" cy="1332.5" r="6.3" fill="#000"/>
<circle cx="1245.5" cy="1387.5" r="6.3" fill="#000"/>
<circle cx="1252" cy="1357.75" r="6.3" fill="#000"/>
<circle cx="1255.5" cy="1344" r="6.3" fill="#000"/>
<circle cx="1253" cy="1372" r="6.3" fill="#000"/>
<circle cx="1275" cy="1352.5" r="6.3" fill="#000"/>
<circle cx="1271.75" cy="1375.75" r="6.3" fill="#000"/>
<circle cx="1302.25" cy="1340.75" r="6.3" fill="#000"/>
<circle cx="1299.5" cy="1364" r="6.3" fill="#000"/>
<circle cx="1312" cy="1379.75" r="6.3" fill="#000"/>
<circle cx="1317.75" cy="1355" r="6.3" fill="#000"/>
<circle cx="1320.75" cy="1368" r="6.3" fill="#000"/>
<circle cx="1332.75" cy="1341" r="6.3" fill="#000"/>
<circle cx="1340.75" cy="1347.75" r="6.3" fill="#000"/>
<circle cx="1334.25" cy="1375.25" r="6.3" fill="#000"/>
<circle cx="1347" cy="1361.25" r="6.3" fill="#000"/>
<circle cx="1356.75" cy="1335.75" r="6.3" fill="#000"/>
<circle cx="1363.5" cy="1358.75" r="6.3" fill="#000"/>
<circle cx="1361.5" cy="1383.5" r="6.3" fill="#000"/>
<circle cx="1378.75" cy="1370" r="6.3" fill="#000"/>
<circle cx="1388" cy="1348" r="6.3" fill="#000"/>
<circle cx="1404.25" cy="1377.75" r="6.3" fill="#000"/>
<circle cx="1410.25" cy="1352.25" r="6.3" fill="#000"/>
<circle cx="1420" cy="1366.25" r="6.3" fill="#000"/>
<circle cx="1429.25" cy="1334.25" r="6.3" fill="#000"/>
<circle cx="1438.5" cy="1338" r="6.3" fill="#000"/>
<circle cx="1434.5" cy="1354.5" r="6.3" fill="#000"/>
<circle cx="1437.75" cy="1370.75" r="6.3" fill="#000"/>
<circle cx="1443.75" cy="1378.75" r="6.3" fill="#000"/>
<circle cx="1431.75" cy="1387" r="6.3" fill="#000"/>
<circle cx="1448.25" cy="1347" r="6.3" fill="#000"/>
<circle cx="1450.25" cy="1362.75" r="6.3" fill="#000"/>
<circle cx="1455" cy="1333" r="6.3" fill="#000"/>
<circle cx="1476.25" cy="1377.5" r="6.3" fill="#000"/>
<circle cx="1483.25" cy="1357.5" r="6.3" fill="#000"/>
<circle cx="1487" cy="1366.25" r="6.3" fill="#000"/>
<circle cx="1534.5" cy="1352" r="6.3" fill="#000"/>
<circle cx="1535" cy="1356.25" r="6.3" fill="#000"/>
<circle cx="1535" cy="1368" r="6.3" fill="#000"/>
<circle cx="1575.5" cy="1350" r="6.3" fill="#000"/>
<circle cx="1566.25" cy="1361.75" r="6.3" fill="#000"/>
<circle cx="1605" cy="1357.5" r="6.3" fill="#000"/>
<circle cx="1600.25" cy="1367.5" r="6.3" fill="#000"/>
<circle cx="1186.75" cy="1441.5" r="6.3" fill="#000"/>
<circle cx="1197.5" cy="1451.5" r="6.3" fill="#000"/>
<circle cx="1214.75" cy="1428.75" r="6.3" fill="#000"/>
<circle cx="1223.25" cy="1462.75" r="6.3" fill="#000"/>
<circle cx="1255.5" cy="1417" r="6.3" fill="#000"/>
<circle cx="1250.25" cy="1433.75" r="6.3" fill="#000"/>
<circle cx="1264.5" cy="1437.5" r="6.3" fill="#000"/>
<circle cx="1254.5" cy="1450" r="6.3" fill="#000"/>
<circle cx="1256.5" cy="1470" r="6.3" fill="#000"/>
<circle cx="1285.75" cy="1450.5" r="6.3" fill="#000"/>
<circle cx="1323.75" cy="1429" r="6.3" fill="#000"/>
<circle cx="1347.75" cy="1432.5" r="6.3" fill="#000"/>
<circle cx="1352.25" cy="1444.5" r="6.3" fill="#000"/>
<circle cx="1340.5" cy="1456.25" r="6.3" fill="#000"/>
<circle cx="1373.5" cy="1421.75" r="6.3" fill="#000"/>
<circle cx="1395.5" cy="1440.5" r="6.3" fill="#000"/>
<circle cx="1395.25" cy="1458.25" r="6.3" fill="#000"/>
<circle cx="1464.5" cy="1430.25" r="6.3" fill="#000"/>
<circle cx="1460.2" cy="1450" r="6.3" fill="#000"/>
<circle cx="1493.2" cy="1435" r="6.3" fill="#000"/>
<circle cx="1493.2" cy="1445.5" r="6.3" fill="#000"/>
<circle cx="1484.25" cy="1456.5" r="6.3" fill="#000"/>
<circle cx="1571.25" cy="1433.5" r="6.3" fill="#000"/>
<circle cx="1582.25" cy="1449.5" r="6.3" fill="#000"/>
<rect x="1064.3" y="818.7" width="673" height="671.8" fill="none" stroke="#000" stroke-width="3.3"/>
<line x1="1056.8" y1="867.5" x2="1064.3" y2="867.5" stroke="#333333" stroke-width="3" stroke-linecap="butt"/>
<text transform="translate(803.71 875.2) scale(1 0.988)" font-size="21.1" fill="#4d4d4d" stroke="#4d4d4d" stroke-width="0.3">Squamous cell carcinoma</text>
<line x1="1056.8" y1="949.57" x2="1064.3" y2="949.57" stroke="#333333" stroke-width="3" stroke-linecap="butt"/>
<text transform="translate(837.02 957.27) scale(1 0.988)" font-size="21.1" fill="#4d4d4d" stroke="#4d4d4d" stroke-width="0.3">Solid adenocarcinoma</text>
<line x1="1056.8" y1="1031.64" x2="1064.3" y2="1031.64" stroke="#333333" stroke-width="3" stroke-linecap="butt"/>
<text transform="translate(802.72 1039.34) scale(1 0.987)" font-size="21.1" fill="#4d4d4d" stroke="#4d4d4d" stroke-width="0.3">Papillary adenocarcinoma</text>
<line x1="1056.8" y1="1113.71" x2="1064.3" y2="1113.71" stroke="#333333" stroke-width="3" stroke-linecap="butt"/>
<text transform="translate(998.08 1121.41) scale(1 0.996)" font-size="21.1" fill="#4d4d4d" stroke="#4d4d4d" stroke-width="0.3">Other</text>
<line x1="1056.8" y1="1195.78" x2="1064.3" y2="1195.78" stroke="#333333" stroke-width="3" stroke-linecap="butt"/>
<text transform="translate(816.77 1203.48) scale(1 0.988)" font-size="21.1" fill="#4d4d4d" stroke="#4d4d4d" stroke-width="0.3">Lepidic adenocarcinoma</text>
<line x1="1056.8" y1="1277.85" x2="1064.3" y2="1277.85" stroke="#333333" stroke-width="3" stroke-linecap="butt"/>
<text transform="translate(819.13 1285.55) scale(1 0.988)" font-size="21.1" fill="#4d4d4d" stroke="#4d4d4d" stroke-width="0.3">Colloid adenocarcinoma</text>
<line x1="1056.8" y1="1359.92" x2="1064.3" y2="1359.92" stroke="#333333" stroke-width="3" stroke-linecap="butt"/>
<text transform="translate(889.16 1367.62) scale(1 0.989)" font-size="21.1" fill="#4d4d4d" stroke="#4d4d4d" stroke-width="0.3">Adenocarcinoma</text>
<line x1="1056.8" y1="1441.99" x2="1064.3" y2="1441.99" stroke="#333333" stroke-width="3" stroke-linecap="butt"/>
<text transform="translate(823.83 1449.69) scale(1 0.988)" font-size="21.1" fill="#4d4d4d" stroke="#4d4d4d" stroke-width="0.3">Acinar adenocarcinoma</text>
<line x1="1176.5" y1="1490.5" x2="1176.5" y2="1498" stroke="#333333" stroke-width="3" stroke-linecap="butt"/>
<text transform="translate(1176.5 1520) scale(1 1.012)" font-size="21.5" text-anchor="middle" fill="#4d4d4d" stroke="#4d4d4d" stroke-width="0.3">−0.2</text>
<line x1="1288.5" y1="1490.5" x2="1288.5" y2="1498" stroke="#333333" stroke-width="3" stroke-linecap="butt"/>
<text transform="translate(1288.5 1520) scale(1 1.022)" font-size="21.5" text-anchor="middle" fill="#4d4d4d" stroke="#4d4d4d" stroke-width="0.3">0.0</text>
<line x1="1400.5" y1="1490.5" x2="1400.5" y2="1498" stroke="#333333" stroke-width="3" stroke-linecap="butt"/>
<text transform="translate(1400.5 1520) scale(1 1.022)" font-size="21.5" text-anchor="middle" fill="#4d4d4d" stroke="#4d4d4d" stroke-width="0.3">0.2</text>
<line x1="1512.3" y1="1490.5" x2="1512.3" y2="1498" stroke="#333333" stroke-width="3" stroke-linecap="butt"/>
<text transform="translate(1512.3 1520) scale(1 1.022)" font-size="21.5" text-anchor="middle" fill="#4d4d4d" stroke="#4d4d4d" stroke-width="0.3">0.4</text>
<line x1="1624.2" y1="1490.5" x2="1624.2" y2="1498" stroke="#333333" stroke-width="3" stroke-linecap="butt"/>
<text transform="translate(1624.2 1520) scale(1 1.022)" font-size="21.5" text-anchor="middle" fill="#4d4d4d" stroke="#4d4d4d" stroke-width="0.3">0.6</text>
<line x1="1736.2" y1="1490.5" x2="1736.2" y2="1498" stroke="#333333" stroke-width="3" stroke-linecap="butt"/>
<text transform="translate(1736.2 1520) scale(1 1.022)" font-size="21.5" text-anchor="middle" fill="#4d4d4d" stroke="#4d4d4d" stroke-width="0.3">0.8</text>
<text transform="translate(1319.21 1551.7) scale(1 0.991)" font-size="29.1" font-weight="bold" fill="#000" stroke="#000" stroke-width="0.64">Abundance</text>
<text transform="translate(1086.72 862.5) scale(1 0.998)" font-size="29.5" fill="#000" stroke="#000" stroke-width="0.41">Kruskal−Wallis, p = 0.11</text>
<circle cx="223" cy="1624.46" r="12" fill="#E9AA27"/>
<circle cx="242" cy="1624.46" r="12" fill="#E9AA27"/>
<circle cx="247.8" cy="1713.69" r="12" fill="#E9AA27"/>
<circle cx="236" cy="1758.3" r="12" fill="#E9AA27"/>
<circle cx="213.9" cy="1817.79" r="12" fill="#E9AA27"/>
<circle cx="250" cy="1817.79" r="12" fill="#E9AA27"/>
<circle cx="257.7" cy="1817.79" r="12" fill="#E9AA27"/>
<circle cx="221.9" cy="1847.54" r="12" fill="#E9AA27"/>
<circle cx="195.2" cy="1877.28" r="12" fill="#E9AA27"/>
<circle cx="241.5" cy="1877.28" r="12" fill="#E9AA27"/>
<circle cx="279" cy="1877.28" r="12" fill="#E9AA27"/>
<circle cx="230.3" cy="1907.02" r="12" fill="#E9AA27"/>
<circle cx="189.6" cy="1921.9" r="12" fill="#E9AA27"/>
<circle cx="209.3" cy="1921.9" r="12" fill="#E9AA27"/>
<circle cx="267.8" cy="1921.9" r="12" fill="#E9AA27"/>
<circle cx="287.4" cy="1921.9" r="12" fill="#E9AA27"/>
<circle cx="169" cy="1936.77" r="12" fill="#E9AA27"/>
<circle cx="248.6" cy="1936.77" r="12" fill="#E9AA27"/>
<circle cx="220.5" cy="1951.64" r="12" fill="#E9AA27"/>
<circle cx="291.8" cy="1951.64" r="12" fill="#E9AA27"/>
<circle cx="253" cy="1966.51" r="12" fill="#E9AA27"/>
<circle cx="205.8" cy="1981.38" r="12" fill="#E9AA27"/>
<circle cx="260.5" cy="1981.38" r="12" fill="#E9AA27"/>
<circle cx="227.2" cy="2026" r="12" fill="#E9AA27"/>
<circle cx="238" cy="2026" r="12" fill="#E9AA27"/>
<circle cx="441.7" cy="1624.46" r="12" fill="#DB1F30"/>
<circle cx="423.8" cy="1669.07" r="12" fill="#DB1F30"/>
<circle cx="432.9" cy="1713.69" r="12" fill="#DB1F30"/>
<circle cx="465.9" cy="1713.69" r="12" fill="#DB1F30"/>
<circle cx="404" cy="1758.3" r="12" fill="#DB1F30"/>
<circle cx="455.1" cy="1758.3" r="12" fill="#DB1F30"/>
<circle cx="467.7" cy="1758.3" r="12" fill="#DB1F30"/>
<circle cx="416.5" cy="1788.05" r="12" fill="#DB1F30"/>
<circle cx="442.4" cy="1788.05" r="12" fill="#DB1F30"/>
<circle cx="404.3" cy="1817.79" r="12" fill="#DB1F30"/>
<circle cx="471.5" cy="1817.79" r="12" fill="#DB1F30"/>
<circle cx="434" cy="1877.28" r="12" fill="#DB1F30"/>
<circle cx="392.2" cy="1907.02" r="12" fill="#DB1F30"/>
<circle cx="410.9" cy="1907.02" r="12" fill="#DB1F30"/>
<circle cx="467" cy="1907.02" r="12" fill="#DB1F30"/>
<circle cx="485.5" cy="1907.02" r="12" fill="#DB1F30"/>
<circle cx="449" cy="1921.9" r="12" fill="#DB1F30"/>
<circle cx="372" cy="1936.77" r="12" fill="#DB1F30"/>
<circle cx="496.7" cy="1936.77" r="12" fill="#DB1F30"/>
<circle cx="422.1" cy="1951.64" r="12" fill="#DB1F30"/>
<circle cx="396.8" cy="1966.51" r="12" fill="#DB1F30"/>
<circle cx="453.2" cy="1966.51" r="12" fill="#DB1F30"/>
<circle cx="458.7" cy="1996.26" r="12" fill="#DB1F30"/>
<circle cx="424.2" cy="2026" r="12" fill="#DB1F30"/>
<circle cx="438.9" cy="2026" r="12" fill="#DB1F30"/>
<rect x="228.5" y="1817.79" width="20.1" height="133.85" fill="#fff" stroke="#36393B" stroke-width="6.4"/>
<line x1="228.5" y1="1921.9" x2="248.6" y2="1921.9" stroke="#36393B" stroke-width="13.3" stroke-linecap="butt"/>
<rect x="429.2" y="1758.3" width="19.9" height="178.46" fill="#fff" stroke="#36393B" stroke-width="6.4"/>
<line x1="429.2" y1="1907.02" x2="449.1" y2="1907.02" stroke="#36393B" stroke-width="13.3" stroke-linecap="butt"/>
<text transform="translate(288.35 1633.7) scale(1 1.012)" font-size="26" fill="#000" stroke="#000" stroke-width="0.36">p = 0.44</text>
<rect x="118.3" y="1604.3" width="440.7" height="441.5" fill="none" stroke="#000" stroke-width="3.3"/>
<line x1="106.1" y1="2026" x2="118.3" y2="2026" stroke="#333333" stroke-width="3" stroke-linecap="butt"/>
<text transform="translate(86.16 2039) scale(1 1.040)" font-size="25.8" fill="#4d4d4d" stroke="#4d4d4d" stroke-width="0.36">0</text>
<line x1="106.1" y1="1877.28" x2="118.3" y2="1877.28" stroke="#333333" stroke-width="3" stroke-linecap="butt"/>
<text transform="translate(57.46 1890.28) scale(1 1.040)" font-size="25.8" fill="#4d4d4d" stroke="#4d4d4d" stroke-width="0.36">100</text>
<line x1="106.1" y1="1728.56" x2="118.3" y2="1728.56" stroke="#333333" stroke-width="3" stroke-linecap="butt"/>
<text transform="translate(57.46 1741.56) scale(1 1.040)" font-size="25.8" fill="#4d4d4d" stroke="#4d4d4d" stroke-width="0.36">200</text>
<line x1="238.2" y1="2045.8" x2="238.2" y2="2058.3" stroke="#333333" stroke-width="3" stroke-linecap="butt"/>
<text transform="translate(200.85 2084.4) scale(1 1.040)" font-size="25.8" fill="#4d4d4d" stroke="#4d4d4d" stroke-width="0.36">LUAD</text>
<line x1="439.2" y1="2045.8" x2="439.2" y2="2058.3" stroke="#333333" stroke-width="3" stroke-linecap="butt"/>
<text transform="translate(386.96 2084.4) scale(1 1.040)" font-size="25.8" fill="#4d4d4d" stroke="#4d4d4d" stroke-width="0.36">SQCLC</text>
<text transform="translate(279.73 2122.6) scale(1 0.991)" font-size="29.4" font-weight="bold" fill="#000" stroke="#000" stroke-width="0.65">Histology</text>
<text transform="translate(35.7 1961.62) rotate(-90) scale(1 1.009)" font-size="29.4" font-weight="bold" fill="#000" stroke="#000" stroke-width="0.53">PSME4 Intensity</text>
<text transform="translate(0.51 1591.4) scale(1 0.985)" font-size="33" font-weight="bold" fill="#222" stroke="#222" stroke-width="0.73">e</text>
<circle cx="882.7" cy="1624.46" r="12" fill="#E9AA27"/>
<circle cx="860.2" cy="1713.69" r="12" fill="#E9AA27"/>
<circle cx="906.4" cy="1758.3" r="12" fill="#E9AA27"/>
<circle cx="845.1" cy="1817.79" r="12" fill="#E9AA27"/>
<circle cx="873.8" cy="1817.79" r="12" fill="#E9AA27"/>
<circle cx="903.6" cy="1817.79" r="12" fill="#E9AA27"/>
<circle cx="858.1" cy="1877.28" r="12" fill="#E9AA27"/>
<circle cx="920.1" cy="1877.28" r="12" fill="#E9AA27"/>
<circle cx="891" cy="1907.02" r="12" fill="#E9AA27"/>
<circle cx="812.1" cy="1921.9" r="12" fill="#E9AA27"/>
<circle cx="941.2" cy="1921.9" r="12" fill="#E9AA27"/>
<circle cx="861.5" cy="1951.64" r="12" fill="#E9AA27"/>
<circle cx="900.5" cy="1966.51" r="12" fill="#E9AA27"/>
<circle cx="825.7" cy="1981.38" r="12" fill="#E9AA27"/>
<circle cx="919.4" cy="1981.38" r="12" fill="#E9AA27"/>
<circle cx="857.4" cy="2026" r="12" fill="#E9AA27"/>
<circle cx="1064.4" cy="1624.46" r="12" fill="#E9AA27"/>
<circle cx="1100.1" cy="1847.54" r="12" fill="#E9AA27"/>
<circle cx="1076" cy="1877.28" r="12" fill="#E9AA27"/>
<circle cx="1030.7" cy="1921.9" r="12" fill="#E9AA27"/>
<circle cx="1099.7" cy="1921.9" r="12" fill="#E9AA27"/>
<circle cx="1042.9" cy="1936.77" r="12" fill="#E9AA27"/>
<circle cx="1121.5" cy="1936.77" r="12" fill="#E9AA27"/>
<circle cx="1082.3" cy="1951.64" r="12" fill="#E9AA27"/>
<circle cx="865" cy="1624.46" r="12" fill="#DB1F30"/>
<circle cx="898.7" cy="1669.07" r="12" fill="#DB1F30"/>
<circle cx="868.2" cy="1758.3" r="12" fill="#DB1F30"/>
<circle cx="886.9" cy="1788.05" r="12" fill="#DB1F30"/>
<circle cx="849.7" cy="1817.79" r="12" fill="#DB1F30"/>
<circle cx="864.7" cy="1907.02" r="12" fill="#DB1F30"/>
<circle cx="932.5" cy="1907.02" r="12" fill="#DB1F30"/>
<circle cx="821.6" cy="1936.77" r="12" fill="#DB1F30"/>
<circle cx="901.9" cy="1936.77" r="12" fill="#DB1F30"/>
<circle cx="915.9" cy="1966.51" r="12" fill="#DB1F30"/>
<circle cx="855" cy="1996.26" r="12" fill="#DB1F30"/>
<circle cx="881.5" cy="2026" r="12" fill="#DB1F30"/>
<circle cx="1048.9" cy="1713.69" r="12" fill="#DB1F30"/>
<circle cx="1102" cy="1713.69" r="12" fill="#DB1F30"/>
<circle cx="1057.3" cy="1758.3" r="12" fill="#DB1F30"/>
<circle cx="1123.7" cy="1758.3" r="12" fill="#DB1F30"/>
<circle cx="1089.3" cy="1788.05" r="12" fill="#DB1F30"/>
<circle cx="1048.2" cy="1817.79" r="12" fill="#DB1F30"/>
<circle cx="1121.5" cy="1877.28" r="12" fill="#DB1F30"/>
<circle cx="1062.3" cy="1907.02" r="12" fill="#DB1F30"/>
<circle cx="1101.8" cy="1907.02" r="12" fill="#DB1F30"/>
<circle cx="1022.7" cy="1921.9" r="12" fill="#DB1F30"/>
<circle cx="1113.5" cy="1951.64" r="12" fill="#DB1F30"/>
<circle cx="1057.1" cy="1966.51" r="12" fill="#DB1F30"/>
<circle cx="1082.2" cy="2026" r="12" fill="#DB1F30"/>
<rect x="871.6" y="1817.79" width="20.1" height="148.72" fill="#fff" stroke="#36393B" stroke-width="6.4"/>
<line x1="871.6" y1="1907.02" x2="891.7" y2="1907.02" stroke="#36393B" stroke-width="13.3" stroke-linecap="butt"/>
<rect x="1072.5" y="1788.05" width="19.8" height="148.72" fill="#fff" stroke="#36393B" stroke-width="6.4"/>
<line x1="1072.5" y1="1907.02" x2="1092.3" y2="1907.02" stroke="#36393B" stroke-width="13.3" stroke-linecap="butt"/>
<text transform="translate(921.18 1633.7) scale(1 1.012)" font-size="26" fill="#000" stroke="#000" stroke-width="0.36">p = 0.59</text>
<rect x="761.3" y="1604.3" width="441.5" height="441.5" fill="none" stroke="#000" stroke-width="3.3"/>
<line x1="749.1" y1="2026" x2="761.3" y2="2026" stroke="#333333" stroke-width="3" stroke-linecap="butt"/>
<text transform="translate(729.16 2039) scale(1 1.040)" font-size="25.8" fill="#4d4d4d" stroke="#4d4d4d" stroke-width="0.36">0</text>
<line x1="749.1" y1="1877.28" x2="761.3" y2="1877.28" stroke="#333333" stroke-width="3" stroke-linecap="butt"/>
<text transform="translate(700.46 1890.28) scale(1 1.040)" font-size="25.8" fill="#4d4d4d" stroke="#4d4d4d" stroke-width="0.36">100</text>
<line x1="749.1" y1="1728.56" x2="761.3" y2="1728.56" stroke="#333333" stroke-width="3" stroke-linecap="butt"/>
<text transform="translate(700.46 1741.56) scale(1 1.040)" font-size="25.8" fill="#4d4d4d" stroke="#4d4d4d" stroke-width="0.36">200</text>
<line x1="881.5" y1="2045.8" x2="881.5" y2="2058.3" stroke="#333333" stroke-width="3" stroke-linecap="butt"/>
<text transform="translate(815.95 2084.4) scale(1 1.022)" font-size="25.8" fill="#4d4d4d" stroke="#4d4d4d" stroke-width="0.36">PY &lt;= 40</text>
<line x1="1082.2" y1="2045.8" x2="1082.2" y2="2058.3" stroke="#333333" stroke-width="3" stroke-linecap="butt"/>
<text transform="translate(1026.74 2084.4) scale(1 1.029)" font-size="25.8" fill="#4d4d4d" stroke="#4d4d4d" stroke-width="0.36">PY &gt; 40</text>
<text transform="translate(941.09 2122.6) scale(1 0.993)" font-size="29.4" font-weight="bold" fill="#000" stroke="#000" stroke-width="0.65">Smoking</text>
<text transform="translate(656.9 1961.62) rotate(-90) scale(1 1.009)" font-size="29.4" font-weight="bold" fill="#000" stroke="#000" stroke-width="0.53">PSME4 Intensity</text>
<text transform="translate(645.24 1591.3) scale(1 0.985)" font-size="33" font-weight="bold" fill="#222" stroke="#222" stroke-width="0.73">f</text>
<circle cx="1441.9" cy="1624.46" r="12" fill="#E9AA27"/>
<circle cx="1473.8" cy="1624.46" r="12" fill="#E9AA27"/>
<circle cx="1452.4" cy="1713.69" r="12" fill="#E9AA27"/>
<circle cx="1460.8" cy="1758.3" r="12" fill="#E9AA27"/>
<circle cx="1431.8" cy="1817.79" r="12" fill="#E9AA27"/>
<circle cx="1485.4" cy="1817.79" r="12" fill="#E9AA27"/>
<circle cx="1455.5" cy="1847.54" r="12" fill="#E9AA27"/>
<circle cx="1428.6" cy="1877.28" r="12" fill="#E9AA27"/>
<circle cx="1481.2" cy="1877.28" r="12" fill="#E9AA27"/>
<circle cx="1489.6" cy="1877.28" r="12" fill="#E9AA27"/>
<circle cx="1389.6" cy="1921.9" r="12" fill="#E9AA27"/>
<circle cx="1439.8" cy="1921.9" r="12" fill="#E9AA27"/>
<circle cx="1469.3" cy="1921.9" r="12" fill="#E9AA27"/>
<circle cx="1417.6" cy="1951.64" r="12" fill="#E9AA27"/>
<circle cx="1487.2" cy="1951.64" r="12" fill="#E9AA27"/>
<circle cx="1447.9" cy="1981.38" r="12" fill="#E9AA27"/>
<circle cx="1672.8" cy="1817.79" r="12" fill="#E9AA27"/>
<circle cx="1620.9" cy="1936.77" r="12" fill="#E9AA27"/>
<circle cx="1695.7" cy="1966.51" r="12" fill="#E9AA27"/>
<circle cx="1624.9" cy="1981.38" r="12" fill="#E9AA27"/>
<circle cx="1659.9" cy="2026" r="12" fill="#E9AA27"/>
<circle cx="1451" cy="1624.46" r="12" fill="#DB1F30"/>
<circle cx="1446.1" cy="1713.69" r="12" fill="#DB1F30"/>
<circle cx="1476.3" cy="1713.69" r="12" fill="#DB1F30"/>
<circle cx="1423.1" cy="1758.3" r="12" fill="#DB1F30"/>
<circle cx="1461.5" cy="1758.3" r="12" fill="#DB1F30"/>
<circle cx="1493.1" cy="1788.05" r="12" fill="#DB1F30"/>
<circle cx="1455.2" cy="1817.79" r="12" fill="#DB1F30"/>
<circle cx="1472.1" cy="1817.79" r="12" fill="#DB1F30"/>
<circle cx="1430.4" cy="1877.28" r="12" fill="#DB1F30"/>
<circle cx="1391.3" cy="1907.02" r="12" fill="#DB1F30"/>
<circle cx="1430" cy="1907.02" r="12" fill="#DB1F30"/>
<circle cx="1469.3" cy="1907.02" r="12" fill="#DB1F30"/>
<circle cx="1507.9" cy="1907.02" r="12" fill="#DB1F30"/>
<circle cx="1519.1" cy="1921.9" r="12" fill="#DB1F30"/>
<circle cx="1441.9" cy="1936.77" r="12" fill="#DB1F30"/>
<circle cx="1477" cy="1936.77" r="12" fill="#DB1F30"/>
<circle cx="1428.2" cy="1966.51" r="12" fill="#DB1F30"/>
<circle cx="1476.6" cy="1996.26" r="12" fill="#DB1F30"/>
<circle cx="1443.7" cy="2026" r="12" fill="#DB1F30"/>
<circle cx="1459.4" cy="2026" r="12" fill="#DB1F30"/>
<circle cx="1671.7" cy="1669.07" r="12" fill="#DB1F30"/>
<circle cx="1602.4" cy="1758.3" r="12" fill="#DB1F30"/>
<circle cx="1696.7" cy="1788.05" r="12" fill="#DB1F30"/>
<circle cx="1620.6" cy="1951.64" r="12" fill="#DB1F30"/>
<circle cx="1659.9" cy="1966.51" r="12" fill="#DB1F30"/>
<rect x="1449.3" y="1810.36" width="20.4" height="126.41" fill="#fff" stroke="#36393B" stroke-width="6.4"/>
<line x1="1449.3" y1="1907.02" x2="1469.7" y2="1907.02" stroke="#36393B" stroke-width="13.3" stroke-linecap="butt"/>
<rect x="1650" y="1795.48" width="20.3" height="171.03" fill="#fff" stroke="#36393B" stroke-width="6.4"/>
<line x1="1650" y1="1944.2" x2="1670.3" y2="1944.2" stroke="#36393B" stroke-width="13.3" stroke-linecap="butt"/>
<text transform="translate(1508.54 1633.7) scale(1 1.012)" font-size="26" fill="#000" stroke="#000" stroke-width="0.36">p = 0.36</text>
<rect x="1339.3" y="1604.3" width="441.3" height="441.5" fill="none" stroke="#000" stroke-width="3.3"/>
<line x1="1327.1" y1="2026" x2="1339.3" y2="2026" stroke="#333333" stroke-width="3" stroke-linecap="butt"/>
<text transform="translate(1307.16 2039) scale(1 1.040)" font-size="25.8" fill="#4d4d4d" stroke="#4d4d4d" stroke-width="0.36">0</text>
<line x1="1327.1" y1="1877.28" x2="1339.3" y2="1877.28" stroke="#333333" stroke-width="3" stroke-linecap="butt"/>
<text transform="translate(1278.46 1890.28) scale(1 1.040)" font-size="25.8" fill="#4d4d4d" stroke="#4d4d4d" stroke-width="0.36">100</text>
<line x1="1327.1" y1="1728.56" x2="1339.3" y2="1728.56" stroke="#333333" stroke-width="3" stroke-linecap="butt"/>
<text transform="translate(1278.46 1741.56) scale(1 1.040)" font-size="25.8" fill="#4d4d4d" stroke="#4d4d4d" stroke-width="0.36">200</text>
<line x1="1459.3" y1="2045.8" x2="1459.3" y2="2058.3" stroke="#333333" stroke-width="3" stroke-linecap="butt"/>
<text transform="translate(1448.4 2084.4) scale(1 1.040)" font-size="25.8" fill="#4d4d4d" stroke="#4d4d4d" stroke-width="0.36">T2</text>
<line x1="1660" y1="2045.8" x2="1660" y2="2058.3" stroke="#333333" stroke-width="3" stroke-linecap="butt"/>
<text transform="translate(1649.27 2084.4) scale(1 1.040)" font-size="25.8" fill="#4d4d4d" stroke="#4d4d4d" stroke-width="0.36">T3</text>
<text transform="translate(1521.27 2122.6) scale(1 0.994)" font-size="29.4" font-weight="bold" fill="#000" stroke="#000" stroke-width="0.65">T stage</text>
<text transform="translate(1260.6 1961.62) rotate(-90) scale(1 1.009)" font-size="29.4" font-weight="bold" fill="#000" stroke="#000" stroke-width="0.53">PSME4 Intensity</text>
<text transform="translate(1248.75 1591.2) scale(1 0.985)" font-size="33" font-weight="bold" fill="#222" stroke="#222" stroke-width="0.73">g</text>
<circle cx="230.3" cy="2175.96" r="12" fill="#E9AA27"/>
<circle cx="199.5" cy="2369.29" r="12" fill="#E9AA27"/>
<circle cx="244.4" cy="2369.29" r="12" fill="#E9AA27"/>
<circle cx="225.1" cy="2428.78" r="12" fill="#E9AA27"/>
<circle cx="279.2" cy="2428.78" r="12" fill="#E9AA27"/>
<circle cx="178.8" cy="2473.4" r="12" fill="#E9AA27"/>
<circle cx="278.3" cy="2473.4" r="12" fill="#E9AA27"/>
<circle cx="207.9" cy="2488.27" r="12" fill="#E9AA27"/>
<circle cx="451.5" cy="2175.96" r="12" fill="#E9AA27"/>
<circle cx="436.5" cy="2265.19" r="12" fill="#E9AA27"/>
<circle cx="445.9" cy="2309.8" r="12" fill="#E9AA27"/>
<circle cx="424.5" cy="2369.29" r="12" fill="#E9AA27"/>
<circle cx="457.2" cy="2399.04" r="12" fill="#E9AA27"/>
<circle cx="428.7" cy="2428.78" r="12" fill="#E9AA27"/>
<circle cx="385.2" cy="2473.4" r="12" fill="#E9AA27"/>
<circle cx="495.5" cy="2488.27" r="12" fill="#E9AA27"/>
<circle cx="419.3" cy="2503.14" r="12" fill="#E9AA27"/>
<circle cx="459.3" cy="2503.14" r="12" fill="#E9AA27"/>
<circle cx="382.8" cy="2518.01" r="12" fill="#E9AA27"/>
<circle cx="408.3" cy="2532.88" r="12" fill="#E9AA27"/>
<circle cx="469.8" cy="2532.88" r="12" fill="#E9AA27"/>
<circle cx="439.2" cy="2577.5" r="12" fill="#E9AA27"/>
<circle cx="224" cy="2265.19" r="12" fill="#DB1F30"/>
<circle cx="244.6" cy="2309.8" r="12" fill="#DB1F30"/>
<circle cx="182.6" cy="2369.29" r="12" fill="#DB1F30"/>
<circle cx="286.2" cy="2369.29" r="12" fill="#DB1F30"/>
<circle cx="219.1" cy="2458.52" r="12" fill="#DB1F30"/>
<circle cx="258" cy="2458.52" r="12" fill="#DB1F30"/>
<circle cx="185" cy="2488.27" r="12" fill="#DB1F30"/>
<circle cx="274.1" cy="2547.76" r="12" fill="#DB1F30"/>
<circle cx="200.2" cy="2577.5" r="12" fill="#DB1F30"/>
<circle cx="238.3" cy="2577.5" r="12" fill="#DB1F30"/>
<circle cx="456.7" cy="2175.96" r="12" fill="#DB1F30"/>
<circle cx="436.1" cy="2220.57" r="12" fill="#DB1F30"/>
<circle cx="450.8" cy="2265.19" r="12" fill="#DB1F30"/>
<circle cx="405.9" cy="2309.8" r="12" fill="#DB1F30"/>
<circle cx="472.3" cy="2309.8" r="12" fill="#DB1F30"/>
<circle cx="420.7" cy="2339.55" r="12" fill="#DB1F30"/>
<circle cx="445.2" cy="2339.55" r="12" fill="#DB1F30"/>
<circle cx="402.9" cy="2428.78" r="12" fill="#DB1F30"/>
<circle cx="421.7" cy="2458.52" r="12" fill="#DB1F30"/>
<circle cx="492" cy="2458.52" r="12" fill="#DB1F30"/>
<circle cx="459" cy="2473.4" r="12" fill="#DB1F30"/>
<circle cx="379.3" cy="2488.27" r="12" fill="#DB1F30"/>
<circle cx="476.1" cy="2503.14" r="12" fill="#DB1F30"/>
<circle cx="408.3" cy="2518.01" r="12" fill="#DB1F30"/>
<circle cx="438.9" cy="2518.01" r="12" fill="#DB1F30"/>
<rect x="228.5" y="2369.29" width="20.1" height="118.98" fill="#fff" stroke="#36393B" stroke-width="6.4"/>
<line x1="228.5" y1="2458.52" x2="248.6" y2="2458.52" stroke="#36393B" stroke-width="13.3" stroke-linecap="butt"/>
<rect x="429.2" y="2317.24" width="19.9" height="185.9" fill="#fff" stroke="#36393B" stroke-width="6.4"/>
<line x1="429.2" y1="2458.52" x2="449.1" y2="2458.52" stroke="#36393B" stroke-width="13.3" stroke-linecap="butt"/>
<text transform="translate(263.8 2187.1) scale(1 1.012)" font-size="26" fill="#000" stroke="#000" stroke-width="0.36">p = 0.74</text>
<rect x="118.3" y="2156.3" width="440.7" height="441.3" fill="none" stroke="#000" stroke-width="3.3"/>
<line x1="106.1" y1="2577.5" x2="118.3" y2="2577.5" stroke="#333333" stroke-width="3" stroke-linecap="butt"/>
<text transform="translate(86.16 2590.5) scale(1 1.040)" font-size="25.8" fill="#4d4d4d" stroke="#4d4d4d" stroke-width="0.36">0</text>
<line x1="106.1" y1="2428.78" x2="118.3" y2="2428.78" stroke="#333333" stroke-width="3" stroke-linecap="butt"/>
<text transform="translate(57.46 2441.78) scale(1 1.040)" font-size="25.8" fill="#4d4d4d" stroke="#4d4d4d" stroke-width="0.36">100</text>
<line x1="106.1" y1="2280.06" x2="118.3" y2="2280.06" stroke="#333333" stroke-width="3" stroke-linecap="butt"/>
<text transform="translate(57.46 2293.06) scale(1 1.040)" font-size="25.8" fill="#4d4d4d" stroke="#4d4d4d" stroke-width="0.36">200</text>
<line x1="238.3" y1="2597.6" x2="238.3" y2="2610.1" stroke="#333333" stroke-width="3" stroke-linecap="butt"/>
<text transform="translate(225.01 2636.2) scale(1 1.040)" font-size="25.8" fill="#4d4d4d" stroke="#4d4d4d" stroke-width="0.36">N0</text>
<line x1="439.2" y1="2597.6" x2="439.2" y2="2610.1" stroke="#333333" stroke-width="3" stroke-linecap="butt"/>
<text transform="translate(425.6 2636.2) scale(1 1.040)" font-size="25.8" fill="#4d4d4d" stroke="#4d4d4d" stroke-width="0.36">N2</text>
<text transform="translate(285.37 2683.9) scale(1 0.994)" font-size="29.4" font-weight="bold" fill="#000" stroke="#000" stroke-width="0.65">N stage</text>
<text transform="translate(35.7 2513.62) rotate(-90) scale(1 1.009)" font-size="29.4" font-weight="bold" fill="#000" stroke="#000" stroke-width="0.53">PSME4 Intensity</text>
<text transform="translate(0.8 2155.3) scale(1 0.985)" font-size="33" font-weight="bold" fill="#222" stroke="#222" stroke-width="0.73">h</text>
<circle cx="873.3" cy="2175.96" r="12" fill="#E9AA27"/>
<circle cx="842.5" cy="2369.29" r="12" fill="#E9AA27"/>
<circle cx="887.4" cy="2369.29" r="12" fill="#E9AA27"/>
<circle cx="868.1" cy="2428.78" r="12" fill="#E9AA27"/>
<circle cx="922.2" cy="2428.78" r="12" fill="#E9AA27"/>
<circle cx="821.8" cy="2473.4" r="12" fill="#E9AA27"/>
<circle cx="921.3" cy="2473.4" r="12" fill="#E9AA27"/>
<circle cx="850.9" cy="2488.27" r="12" fill="#E9AA27"/>
<circle cx="1094.5" cy="2175.96" r="12" fill="#E9AA27"/>
<circle cx="1079.5" cy="2265.19" r="12" fill="#E9AA27"/>
<circle cx="1088.9" cy="2309.8" r="12" fill="#E9AA27"/>
<circle cx="1067.5" cy="2369.29" r="12" fill="#E9AA27"/>
<circle cx="1100.2" cy="2399.04" r="12" fill="#E9AA27"/>
<circle cx="1071.7" cy="2428.78" r="12" fill="#E9AA27"/>
<circle cx="1028.2" cy="2473.4" r="12" fill="#E9AA27"/>
<circle cx="1138.5" cy="2488.27" r="12" fill="#E9AA27"/>
<circle cx="1062.3" cy="2503.14" r="12" fill="#E9AA27"/>
<circle cx="1102.3" cy="2503.14" r="12" fill="#E9AA27"/>
<circle cx="1025.8" cy="2518.01" r="12" fill="#E9AA27"/>
<circle cx="1051.3" cy="2532.88" r="12" fill="#E9AA27"/>
<circle cx="1112.8" cy="2532.88" r="12" fill="#E9AA27"/>
<circle cx="1082.2" cy="2577.5" r="12" fill="#E9AA27"/>
<circle cx="867" cy="2265.19" r="12" fill="#DB1F30"/>
<circle cx="887.6" cy="2309.8" r="12" fill="#DB1F30"/>
<circle cx="825.6" cy="2369.29" r="12" fill="#DB1F30"/>
<circle cx="929.2" cy="2369.29" r="12" fill="#DB1F30"/>
<circle cx="862.1" cy="2458.52" r="12" fill="#DB1F30"/>
<circle cx="901" cy="2458.52" r="12" fill="#DB1F30"/>
<circle cx="828" cy="2488.27" r="12" fill="#DB1F30"/>
<circle cx="917.1" cy="2547.76" r="12" fill="#DB1F30"/>
<circle cx="843.2" cy="2577.5" r="12" fill="#DB1F30"/>
<circle cx="881.3" cy="2577.5" r="12" fill="#DB1F30"/>
<circle cx="1099.7" cy="2175.96" r="12" fill="#DB1F30"/>
<circle cx="1079.1" cy="2220.57" r="12" fill="#DB1F30"/>
<circle cx="1093.8" cy="2265.19" r="12" fill="#DB1F30"/>
<circle cx="1048.9" cy="2309.8" r="12" fill="#DB1F30"/>
<circle cx="1115.3" cy="2309.8" r="12" fill="#DB1F30"/>
<circle cx="1063.7" cy="2339.55" r="12" fill="#DB1F30"/>
<circle cx="1088.2" cy="2339.55" r="12" fill="#DB1F30"/>
<circle cx="1045.9" cy="2428.78" r="12" fill="#DB1F30"/>
<circle cx="1064.7" cy="2458.52" r="12" fill="#DB1F30"/>
<circle cx="1135" cy="2458.52" r="12" fill="#DB1F30"/>
<circle cx="1102" cy="2473.4" r="12" fill="#DB1F30"/>
<circle cx="1022.3" cy="2488.27" r="12" fill="#DB1F30"/>
<circle cx="1119.1" cy="2503.14" r="12" fill="#DB1F30"/>
<circle cx="1051.3" cy="2518.01" r="12" fill="#DB1F30"/>
<circle cx="1081.9" cy="2518.01" r="12" fill="#DB1F30"/>
<rect x="871.5" y="2369.29" width="20.1" height="118.98" fill="#fff" stroke="#36393B" stroke-width="6.4"/>
<line x1="871.5" y1="2458.52" x2="891.6" y2="2458.52" stroke="#36393B" stroke-width="13.3" stroke-linecap="butt"/>
<rect x="1072.2" y="2317.24" width="19.9" height="185.9" fill="#fff" stroke="#36393B" stroke-width="6.4"/>
<line x1="1072.2" y1="2458.52" x2="1092.1" y2="2458.52" stroke="#36393B" stroke-width="13.3" stroke-linecap="butt"/>
<text transform="translate(920.4 2187.1) scale(1 1.012)" font-size="26" fill="#000" stroke="#000" stroke-width="0.36">p = 0.74</text>
<rect x="761.3" y="2156.3" width="441.5" height="441.3" fill="none" stroke="#000" stroke-width="3.3"/>
<line x1="749.1" y1="2577.5" x2="761.3" y2="2577.5" stroke="#333333" stroke-width="3" stroke-linecap="butt"/>
<text transform="translate(729.16 2590.5) scale(1 1.040)" font-size="25.8" fill="#4d4d4d" stroke="#4d4d4d" stroke-width="0.36">0</text>
<line x1="749.1" y1="2428.78" x2="761.3" y2="2428.78" stroke="#333333" stroke-width="3" stroke-linecap="butt"/>
<text transform="translate(700.46 2441.78) scale(1 1.040)" font-size="25.8" fill="#4d4d4d" stroke="#4d4d4d" stroke-width="0.36">100</text>
<line x1="749.1" y1="2280.06" x2="761.3" y2="2280.06" stroke="#333333" stroke-width="3" stroke-linecap="butt"/>
<text transform="translate(700.46 2293.06) scale(1 1.040)" font-size="25.8" fill="#4d4d4d" stroke="#4d4d4d" stroke-width="0.36">200</text>
<line x1="881.7" y1="2597.6" x2="881.7" y2="2610.1" stroke="#333333" stroke-width="3" stroke-linecap="butt"/>
<text transform="translate(873.85 2636.2) scale(1 1.040)" font-size="25.8" fill="#4d4d4d" stroke="#4d4d4d" stroke-width="0.36">IB</text>
<line x1="1082.1" y1="2597.6" x2="1082.1" y2="2610.1" stroke="#333333" stroke-width="3" stroke-linecap="butt"/>
<text transform="translate(1064.63 2636.2) scale(1 1.040)" font-size="25.8" fill="#4d4d4d" stroke="#4d4d4d" stroke-width="0.36">IIIA</text>
<text transform="translate(898.84 2683.9) scale(1 1.009)" font-size="29.4" font-weight="bold" fill="#000" stroke="#000" stroke-width="0.65">TNM6 stage</text>
<text transform="translate(656.9 2513.62) rotate(-90) scale(1 1.009)" font-size="29.4" font-weight="bold" fill="#000" stroke="#000" stroke-width="0.53">PSME4 Intensity</text>
<text transform="translate(645.9 2156) scale(1 0.985)" font-size="33" font-weight="bold" fill="#222" stroke="#222" stroke-width="0.73">i</text>
<text transform="translate(1416.14 2343.9) scale(1 0.991)" font-size="49.4" fill="#000" stroke="#000" stroke-width="0.69">Histology</text>
<circle cx="1455.9" cy="2412.6" r="11.9" fill="#E9AA27"/>
<circle cx="1455.9" cy="2490.2" r="11.9" fill="#DB1F30"/>
<text transform="translate(1517.95 2426) scale(1 1.040)" font-size="36.2" fill="#000" stroke="#000" stroke-width="0.51">LUAD</text>
<text transform="translate(1518.36 2503.4) scale(1 1.040)" font-size="36.2" fill="#000" stroke="#000" stroke-width="0.51">SQCLC</text>
</svg>
</body>
</html>
